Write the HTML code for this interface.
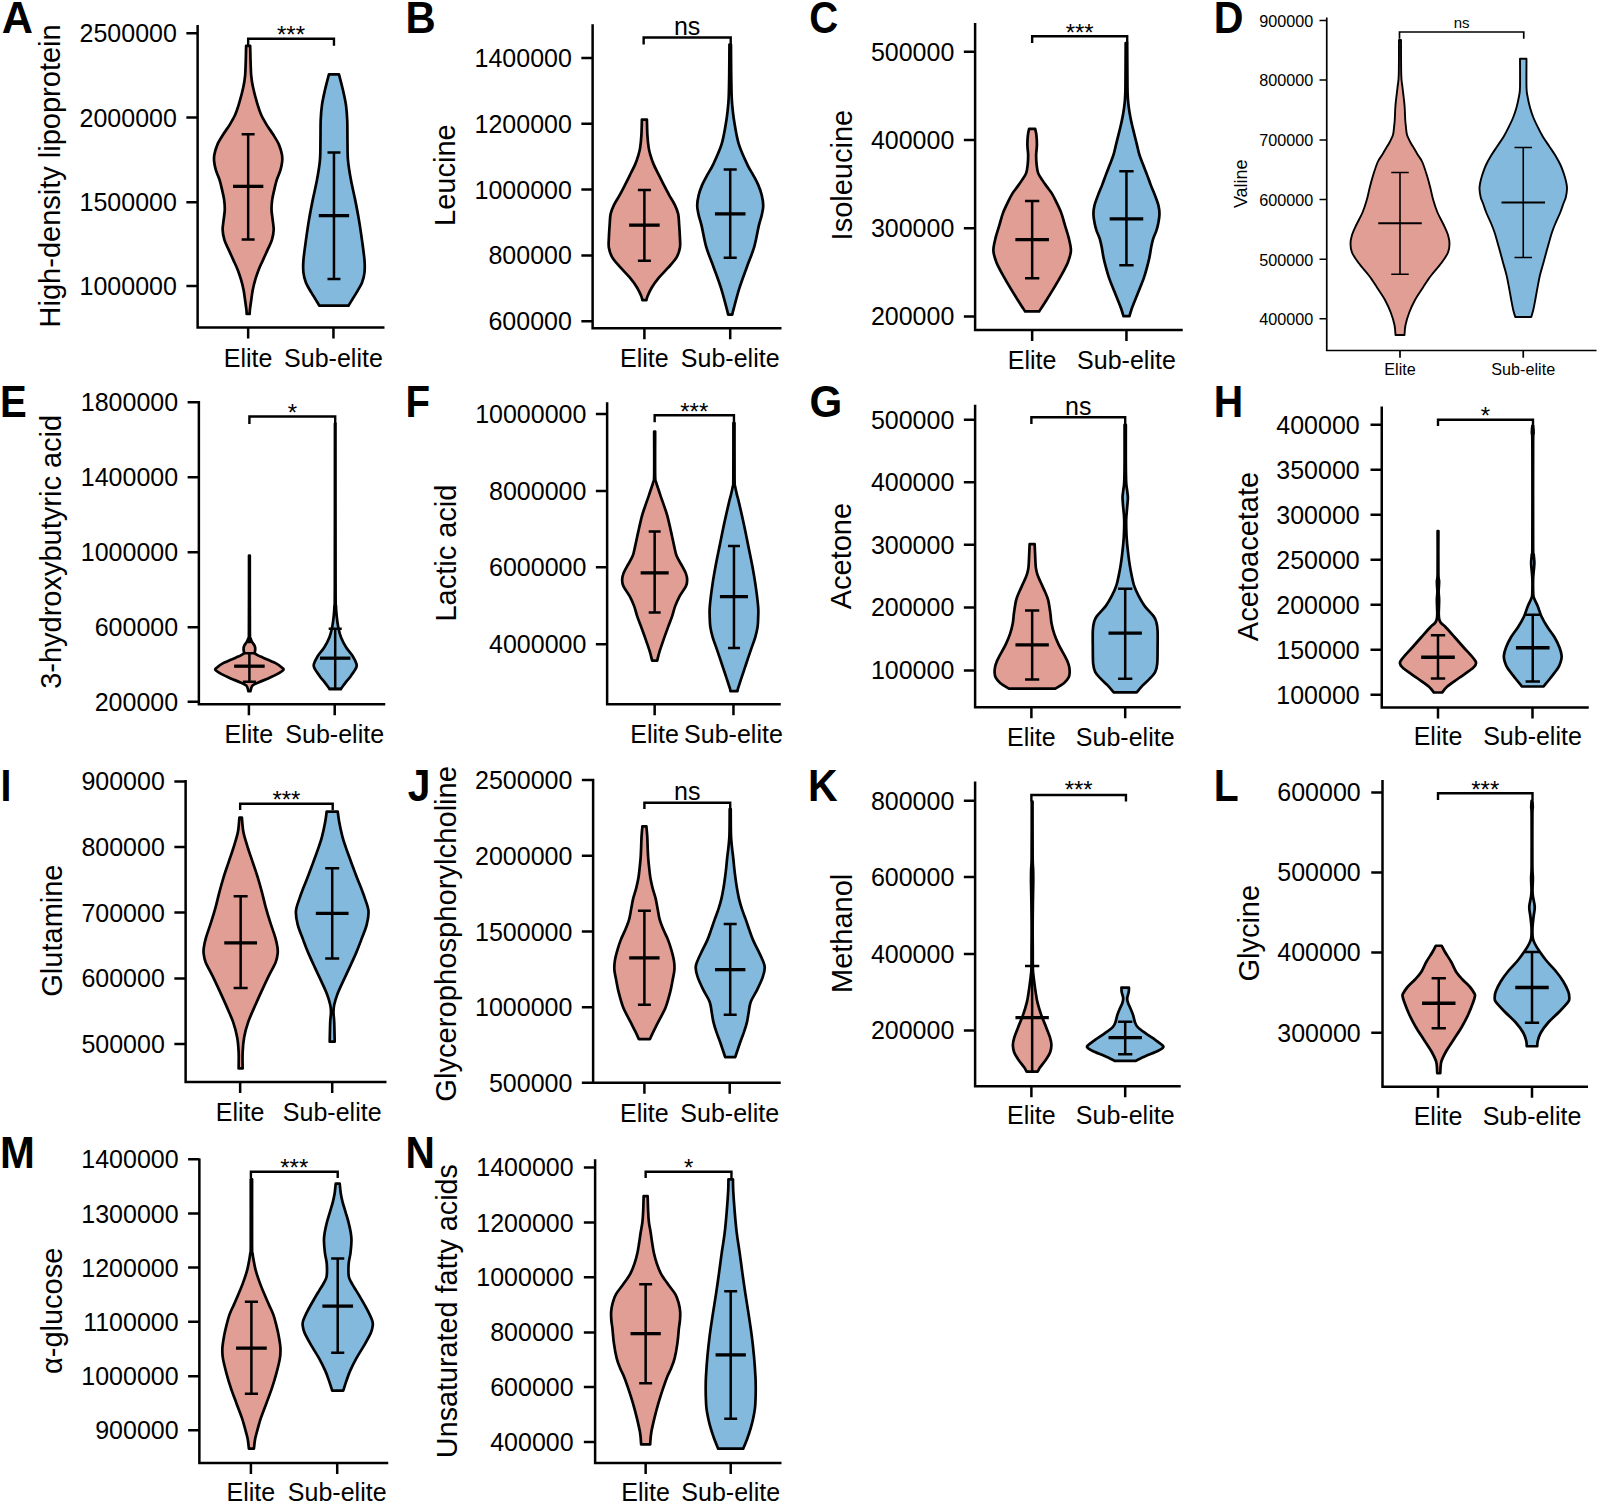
<!DOCTYPE html>
<html><head><meta charset="utf-8"><title>Violin plots</title>
<style>html,body{margin:0;padding:0;background:#fff}svg{display:block}text{font-family:"Liberation Sans",sans-serif;fill:#000}</style></head>
<body>
<svg width="1599" height="1504" viewBox="0 0 1599 1504">
<rect width="1599" height="1504" fill="#fff"/>
<g id="panelA">
<path d="M250.16 45.78C250.32 50.66 250.57 67.67 251.16 75.05C251.74 82.43 252.57 85.09 253.66 90.06C254.74 95.02 256.41 100.69 257.66 104.82C258.91 108.94 259.66 111.49 261.16 114.82C262.66 118.16 264.67 121.53 266.67 124.83C268.67 128.12 271.13 131.29 273.17 134.58C275.21 137.88 277.47 141.25 278.92 144.59C280.38 147.93 281.38 151.8 281.93 154.6C282.47 157.39 282.43 158.77 282.18 161.35C281.93 163.94 281.34 166.98 280.43 170.11C279.51 173.23 277.72 176.78 276.67 180.11C275.63 183.45 274.92 186.83 274.17 190.12C273.42 193.41 272.61 196.58 272.17 199.87C271.73 203.17 271.46 206.55 271.54 209.88C271.63 213.22 272.32 216.55 272.67 219.89C273.02 223.22 273.8 226.56 273.67 229.89C273.55 233.23 272.92 236.61 271.92 239.9C270.92 243.19 269.13 246.36 267.67 249.66C266.21 252.95 264.67 256.33 263.16 259.66C261.66 263 259.97 266.33 258.66 269.67C257.35 273 256.26 276.34 255.28 279.67C254.3 283.01 253.45 286.35 252.78 289.68C252.12 293.02 251.76 296.35 251.28 299.69C250.8 303.02 250.18 307.32 249.91 309.69C249.64 312.07 249.7 313.24 249.66 313.95L246.65 313.95C246.61 313.24 246.68 312.07 246.4 309.69C246.13 307.32 245.51 303.02 245.03 299.69C244.55 296.35 244.19 293.02 243.53 289.68C242.86 286.35 242.01 283.01 241.03 279.67C240.05 276.34 238.96 273 237.65 269.67C236.34 266.33 234.65 263 233.15 259.66C231.64 256.33 230.1 252.95 228.64 249.66C227.18 246.36 225.39 243.19 224.39 239.9C223.39 236.61 222.76 233.23 222.64 229.89C222.51 226.56 223.29 223.22 223.64 219.89C223.99 216.55 224.68 213.22 224.77 209.88C224.85 206.55 224.58 203.17 224.14 199.87C223.7 196.58 222.89 193.41 222.14 190.12C221.39 186.83 220.68 183.45 219.64 180.11C218.59 176.78 216.8 173.23 215.88 170.11C214.97 166.98 214.38 163.94 214.13 161.35C213.88 158.77 213.84 157.39 214.38 154.6C214.93 151.8 215.93 147.93 217.39 144.59C218.85 141.25 221.1 137.88 223.14 134.58C225.18 131.29 227.64 128.12 229.64 124.83C231.64 121.53 233.65 118.16 235.15 114.82C236.65 111.49 237.4 108.94 238.65 104.82C239.9 100.69 241.57 95.02 242.65 90.06C243.74 85.09 244.57 82.43 245.15 75.05C245.74 67.67 245.99 50.66 246.15 45.78Z" fill="#E09E94" stroke="#000" stroke-width="2.7" stroke-linejoin="round"/>
<path d="M248.16 134.33V239.4M241.67 134.33H254.64M241.67 239.4H254.64" fill="none" stroke="#000" stroke-width="2.5"/>
<path d="M232.97 186.37H263.34" fill="none" stroke="#000" stroke-width="3.3"/>
<path d="M338.96 74.3C339.63 76.92 341.8 84.93 342.96 90.06C344.13 95.18 345.26 100.06 345.97 105.07C346.68 110.07 346.97 114.24 347.22 120.08C347.47 125.91 347.34 133.42 347.47 140.09C347.59 146.76 347.38 153.43 347.97 160.1C348.55 166.77 349.76 173.44 350.97 180.11C352.18 186.78 353.89 193.45 355.22 200.13C356.56 206.8 357.85 213.47 358.97 220.14C360.1 226.81 361.06 233.48 361.98 240.15C362.89 246.82 364.06 254.74 364.48 260.16C364.89 265.58 364.89 268.92 364.48 272.67C364.06 276.42 363.31 279.34 361.98 282.68C360.64 286.01 358.72 288.85 356.47 292.68C354.22 296.52 349.8 303.52 348.47 305.69L319.45 305.69C318.12 303.52 313.7 296.52 311.44 292.68C309.19 288.85 307.28 286.01 305.94 282.68C304.61 279.34 303.86 276.42 303.44 272.67C303.02 268.92 303.02 265.58 303.44 260.16C303.86 254.74 305.02 246.82 305.94 240.15C306.86 233.48 307.82 226.81 308.94 220.14C310.07 213.47 311.36 206.8 312.7 200.13C314.03 193.45 315.74 186.78 316.95 180.11C318.16 173.44 319.37 166.77 319.95 160.1C320.53 153.43 320.33 146.76 320.45 140.09C320.58 133.42 320.45 125.91 320.7 120.08C320.95 114.24 321.24 110.07 321.95 105.07C322.66 100.06 323.79 95.18 324.95 90.06C326.12 84.93 328.29 76.92 328.96 74.3Z" fill="#82B9DD" stroke="#000" stroke-width="2.7" stroke-linejoin="round"/>
<path d="M333.96 152.6V278.92M327.48 152.6H340.44M327.48 278.92H340.44" fill="none" stroke="#000" stroke-width="2.5"/>
<path d="M318.77 215.63H349.14" fill="none" stroke="#000" stroke-width="3.3"/>
<path d="M197.62 25.02V327.45H384.49M186.37 33.27H197.62M186.37 117.57H197.62M186.37 202.13H197.62M186.37 285.93H197.62M248.16 327.45V338.46M333.46 327.45V338.46" fill="none" stroke="#000" stroke-width="2.5" stroke-linejoin="miter"/>
<path d="M248.16 45.78V38.77H333.96V45.78" fill="none" stroke="#000" stroke-width="2.4"/>
<text x="291.06" y="43.27" font-size="24" text-anchor="middle">***</text>
<text x="176.86" y="42.22" font-size="25" text-anchor="end">2500000</text>
<text x="176.86" y="126.52" font-size="25" text-anchor="end">2000000</text>
<text x="176.86" y="211.08" font-size="25" text-anchor="end">1500000</text>
<text x="176.86" y="294.88" font-size="25" text-anchor="end">1000000</text>
<text x="248.16" y="366.73" font-size="25" text-anchor="middle">Elite</text>
<text x="333.46" y="366.73" font-size="25" text-anchor="middle">Sub-elite</text>
<text transform="translate(60.29 175.86) rotate(-90)" font-size="29" text-anchor="middle">High-density lipoprotein</text>
<text transform="translate(1.83 33) scale(0.9937 1)" font-size="43.5" font-weight="bold">A</text>
</g>
<g id="panelB">
<path d="M646.9 119.57C646.99 122.16 647.11 130.41 647.4 135.08C647.7 139.75 648.16 144.26 648.66 147.59C649.16 150.93 649.57 152.3 650.41 155.1C651.24 157.89 652.24 161.02 653.66 164.35C655.08 167.69 657.2 171.65 658.91 175.11C660.62 178.57 662.21 181.78 663.91 185.12C665.62 188.45 667.33 191.79 669.17 195.12C671 198.46 673.42 202 674.92 205.13C676.42 208.26 677.47 210.55 678.17 213.88C678.88 217.22 678.88 221.18 679.17 225.14C679.47 229.1 679.8 233.9 679.92 237.65C680.05 241.4 680.51 244.32 679.92 247.65C679.34 250.99 678.38 254.33 676.42 257.66C674.46 261 671.09 264.33 668.17 267.67C665.25 271 661.66 274.34 658.91 277.67C656.16 281.01 653.58 284.55 651.66 287.68C649.74 290.81 648.28 294.35 647.4 296.44C646.53 298.52 646.57 299.56 646.4 300.19L642.4 300.19C642.23 299.56 642.28 298.52 641.4 296.44C640.53 294.35 639.07 290.81 637.15 287.68C635.23 284.55 632.65 281.01 629.89 277.67C627.14 274.34 623.56 271 620.64 267.67C617.72 264.33 614.34 261 612.38 257.66C610.42 254.33 609.46 250.99 608.88 247.65C608.3 244.32 608.76 241.4 608.88 237.65C609.01 233.9 609.34 229.1 609.63 225.14C609.92 221.18 609.92 217.22 610.63 213.88C611.34 210.55 612.38 208.26 613.88 205.13C615.38 202 617.8 198.46 619.64 195.12C621.47 191.79 623.18 188.45 624.89 185.12C626.6 181.78 628.18 178.57 629.89 175.11C631.6 171.65 633.73 167.69 635.15 164.35C636.56 161.02 637.57 157.89 638.4 155.1C639.23 152.3 639.65 150.93 640.15 147.59C640.65 144.26 641.11 139.75 641.4 135.08C641.69 130.41 641.82 122.16 641.9 119.57Z" fill="#E09E94" stroke="#000" stroke-width="2.7" stroke-linejoin="round"/>
<path d="M644.4 190.12V260.66M637.88 190.12H650.92M637.88 260.66H650.92" fill="none" stroke="#000" stroke-width="2.5"/>
<path d="M629.13 225.14H659.68" fill="none" stroke="#000" stroke-width="3.3"/>
<path d="M730.96 44.53C731 49.61 731.08 66.21 731.21 75.05C731.33 83.89 731.46 91.72 731.71 97.56C731.96 103.4 732.25 105.82 732.71 110.07C733.17 114.32 733.46 117.45 734.46 123.08C735.46 128.71 736.59 136.96 738.71 143.84C740.84 150.72 744.8 159.14 747.22 164.35C749.64 169.56 751.39 171.69 753.22 175.11C755.06 178.53 756.81 181.53 758.22 184.87C759.64 188.2 760.89 191.66 761.73 195.12C762.56 198.58 763.23 202.29 763.23 205.63C763.23 208.96 762.48 211.72 761.73 215.13C760.98 218.55 759.97 220.85 758.72 226.14C757.47 231.44 756.22 240.03 754.22 246.9C752.22 253.78 749.18 260.58 746.72 267.42C744.26 274.25 741.63 281.05 739.46 287.93C737.29 294.81 734.92 304.23 733.71 308.69C732.5 313.15 732.46 313.7 732.21 314.7L728.21 314.7C727.95 313.7 727.91 313.15 726.7 308.69C725.5 304.23 723.12 294.81 720.95 287.93C718.78 281.05 716.16 274.25 713.7 267.42C711.24 260.58 708.19 253.78 706.19 246.9C704.19 240.03 702.94 231.44 701.69 226.14C700.44 220.85 699.44 218.55 698.69 215.13C697.94 211.72 697.19 208.96 697.19 205.63C697.19 202.29 697.85 198.58 698.69 195.12C699.52 191.66 700.77 188.2 702.19 184.87C703.61 181.53 705.36 178.53 707.19 175.11C709.03 171.69 710.78 169.56 713.2 164.35C715.61 159.14 719.57 150.72 721.7 143.84C723.83 136.96 724.95 128.71 725.95 123.08C726.95 117.45 727.25 114.32 727.7 110.07C728.16 105.82 728.46 103.4 728.71 97.56C728.96 91.72 729.08 83.89 729.21 75.05C729.33 66.21 729.41 49.61 729.46 44.53Z" fill="#82B9DD" stroke="#000" stroke-width="2.7" stroke-linejoin="round"/>
<path d="M730.21 169.61V257.66M723.69 169.61H736.73M723.69 257.66H736.73" fill="none" stroke="#000" stroke-width="2.5"/>
<path d="M714.93 213.88H745.48" fill="none" stroke="#000" stroke-width="3.3"/>
<path d="M592.62 24.27V328.21H781.49M581.36 58.04H592.62M581.36 123.83H592.62M581.36 189.62H592.62M581.36 255.41H592.62M581.36 321.2H592.62M644.4 328.21V339.21M730.21 328.21V339.21" fill="none" stroke="#000" stroke-width="2.5" stroke-linejoin="miter"/>
<path d="M643.65 44.53V37.52H730.71V44.53" fill="none" stroke="#000" stroke-width="2.4"/>
<text x="687.18" y="34.82" font-size="25" text-anchor="middle">ns</text>
<text x="571.86" y="66.99" font-size="25" text-anchor="end">1400000</text>
<text x="571.86" y="132.78" font-size="25" text-anchor="end">1200000</text>
<text x="571.86" y="198.57" font-size="25" text-anchor="end">1000000</text>
<text x="571.86" y="264.36" font-size="25" text-anchor="end">800000</text>
<text x="571.86" y="330.15" font-size="25" text-anchor="end">600000</text>
<text x="644.4" y="366.73" font-size="25" text-anchor="middle">Elite</text>
<text x="730.21" y="366.73" font-size="25" text-anchor="middle">Sub-elite</text>
<text transform="translate(454.53 175.11) rotate(-90)" font-size="29" text-anchor="middle">Leucine</text>
<text transform="translate(405.45 33) scale(0.9612 1)" font-size="43.5" font-weight="bold">B</text>
</g>
<g id="panelC">
<path d="M1035.15 128.83C1035.36 129.87 1036.11 132.37 1036.4 135.08C1036.69 137.79 1036.94 141.76 1036.9 145.09C1036.86 148.43 1036.19 151.76 1036.15 155.1C1036.11 158.43 1036.31 162.1 1036.65 165.1C1036.98 168.11 1037.23 170.65 1038.15 173.11C1039.07 175.57 1040.73 177.65 1042.15 179.86C1043.57 182.07 1045.07 184.16 1046.65 186.37C1048.24 188.58 1050.2 190.83 1051.66 193.12C1053.12 195.41 1053.83 196.87 1055.41 200.13C1056.99 203.38 1059.58 208.46 1061.16 212.63C1062.75 216.8 1063.66 220.97 1064.92 225.14C1066.17 229.31 1067.67 233.48 1068.67 237.65C1069.67 241.82 1070.92 246.4 1070.92 250.16C1070.92 253.91 1069.46 257.49 1068.67 260.16C1067.88 262.83 1067.38 263.66 1066.17 266.17C1064.96 268.67 1063.41 271.59 1061.41 275.17C1059.41 278.76 1056.66 283.51 1054.16 287.68C1051.66 291.85 1048.91 296.23 1046.4 300.19C1043.9 304.15 1040.36 309.57 1039.15 311.44L1025.14 311.44C1023.93 309.57 1020.39 304.15 1017.89 300.19C1015.38 296.23 1012.63 291.85 1010.13 287.68C1007.63 283.51 1004.88 278.76 1002.88 275.17C1000.88 271.59 999.33 268.67 998.12 266.17C996.91 263.66 996.41 262.83 995.62 260.16C994.83 257.49 993.37 253.91 993.37 250.16C993.37 246.4 994.62 241.82 995.62 237.65C996.62 233.48 998.12 229.31 999.37 225.14C1000.63 220.97 1001.54 216.8 1003.13 212.63C1004.71 208.46 1007.3 203.38 1008.88 200.13C1010.46 196.87 1011.17 195.41 1012.63 193.12C1014.09 190.83 1016.05 188.58 1017.64 186.37C1019.22 184.16 1020.72 182.07 1022.14 179.86C1023.56 177.65 1025.22 175.57 1026.14 173.11C1027.06 170.65 1027.31 168.11 1027.64 165.1C1027.98 162.1 1028.18 158.43 1028.14 155.1C1028.1 151.76 1027.43 148.43 1027.39 145.09C1027.35 141.76 1027.6 137.79 1027.89 135.08C1028.18 132.37 1028.93 129.87 1029.14 128.83Z" fill="#E09E94" stroke="#000" stroke-width="2.7" stroke-linejoin="round"/>
<path d="M1032.15 200.88V278.17M1024.98 200.88H1039.31M1024.98 278.17H1039.31" fill="none" stroke="#000" stroke-width="2.5"/>
<path d="M1015.36 239.65H1048.93" fill="none" stroke="#000" stroke-width="3.3"/>
<path d="M1127.2 43.03C1127.25 50.03 1127.37 76.38 1127.45 85.05C1127.54 93.73 1127.58 92.14 1127.7 95.06C1127.83 97.98 1127.89 99.6 1128.21 102.56C1128.52 105.52 1129.02 109.4 1129.58 112.82C1130.14 116.24 1130.83 119.66 1131.58 123.08C1132.33 126.5 1133.23 129.87 1134.08 133.33C1134.94 136.79 1135.86 140.38 1136.71 143.84C1137.57 147.3 1138.17 150.68 1139.21 154.1C1140.25 157.52 1141.67 160.93 1142.96 164.35C1144.26 167.77 1145.67 171.19 1146.97 174.61C1148.26 178.03 1149.39 181.41 1150.72 184.87C1152.05 188.33 1153.68 191.91 1154.97 195.37C1156.26 198.83 1157.72 202.54 1158.47 205.63C1159.22 208.71 1159.47 211.13 1159.47 213.88C1159.47 216.64 1158.97 219.39 1158.47 222.14C1157.97 224.89 1157.35 227.64 1156.47 230.39C1155.6 233.15 1154.1 235.9 1153.22 238.65C1152.35 241.4 1151.84 243.82 1151.22 246.9C1150.59 249.99 1150.18 253.74 1149.47 257.16C1148.76 260.58 1147.88 264 1146.97 267.42C1146.05 270.84 1145.13 274.25 1143.96 277.67C1142.8 281.09 1141.34 284.47 1139.96 287.93C1138.59 291.39 1137.09 294.98 1135.71 298.44C1134.33 301.9 1132.75 305.73 1131.71 308.69C1130.66 311.65 1129.83 314.95 1129.46 316.2L1123.45 316.2C1123.08 314.95 1122.24 311.65 1121.2 308.69C1120.16 305.73 1118.57 301.9 1117.2 298.44C1115.82 294.98 1114.32 291.39 1112.95 287.93C1111.57 284.47 1110.11 281.09 1108.94 277.67C1107.78 274.25 1106.86 270.84 1105.94 267.42C1105.02 264 1104.15 260.58 1103.44 257.16C1102.73 253.74 1102.31 249.99 1101.69 246.9C1101.06 243.82 1100.56 241.4 1099.69 238.65C1098.81 235.9 1097.31 233.15 1096.44 230.39C1095.56 227.64 1094.93 224.89 1094.43 222.14C1093.93 219.39 1093.43 216.64 1093.43 213.88C1093.43 211.13 1093.68 208.71 1094.43 205.63C1095.18 202.54 1096.64 198.83 1097.94 195.37C1099.23 191.91 1100.85 188.33 1102.19 184.87C1103.52 181.41 1104.65 178.03 1105.94 174.61C1107.23 171.19 1108.65 167.77 1109.94 164.35C1111.24 160.93 1112.65 157.52 1113.7 154.1C1114.74 150.68 1115.34 147.3 1116.2 143.84C1117.05 140.38 1117.97 136.79 1118.82 133.33C1119.68 129.87 1120.58 126.5 1121.33 123.08C1122.08 119.66 1122.76 116.24 1123.33 112.82C1123.89 109.4 1124.39 105.52 1124.7 102.56C1125.02 99.6 1125.08 97.98 1125.2 95.06C1125.33 92.14 1125.37 93.73 1125.45 85.05C1125.54 76.38 1125.66 50.03 1125.7 43.03Z" fill="#82B9DD" stroke="#000" stroke-width="2.7" stroke-linejoin="round"/>
<path d="M1126.45 171.36V265.17M1119.29 171.36H1133.62M1119.29 265.17H1133.62" fill="none" stroke="#000" stroke-width="2.5"/>
<path d="M1109.67 218.89H1143.24" fill="none" stroke="#000" stroke-width="3.3"/>
<path d="M975.11 23.01V329.96H1182.74M963.85 51.78H975.11M963.85 140.09H975.11M963.85 228.14H975.11M963.85 316.45H975.11M1032.15 329.96V340.96M1126.45 329.96V340.96" fill="none" stroke="#000" stroke-width="2.5" stroke-linejoin="miter"/>
<path d="M1032.15 43.03V36.27H1127.2V43.03" fill="none" stroke="#000" stroke-width="2.4"/>
<text x="1079.67" y="40.77" font-size="24" text-anchor="middle">***</text>
<text x="954.35" y="60.73" font-size="25" text-anchor="end">500000</text>
<text x="954.35" y="149.04" font-size="25" text-anchor="end">400000</text>
<text x="954.35" y="237.09" font-size="25" text-anchor="end">300000</text>
<text x="954.35" y="325.4" font-size="25" text-anchor="end">200000</text>
<text x="1032.15" y="368.73" font-size="25" text-anchor="middle">Elite</text>
<text x="1126.45" y="368.73" font-size="25" text-anchor="middle">Sub-elite</text>
<text transform="translate(851.53 175.11) rotate(-90)" font-size="29" text-anchor="middle">Isoleucine</text>
<text transform="translate(809.35 33) scale(0.9230 1)" font-size="43.5" font-weight="bold">C</text>
</g>
<g id="panelD">
<path d="M1401 40C1401.04 45.83 1401 67.08 1401.25 75C1401.5 82.92 1401.96 82.5 1402.5 87.5C1403.04 92.5 1404.04 99.58 1404.5 105C1404.96 110.42 1405 116.25 1405.25 120C1405.5 123.75 1405.71 125.04 1406 127.5C1406.29 129.96 1406.25 132.25 1407 134.75C1407.75 137.25 1409.17 139.96 1410.5 142.5C1411.83 145.04 1413.71 147.83 1415 150C1416.29 152.17 1417 153.42 1418.25 155.5C1419.5 157.58 1421 159 1422.5 162.5C1424 166 1425.96 172.33 1427.25 176.5C1428.54 180.67 1429.25 183.58 1430.25 187.5C1431.25 191.42 1432.04 195.83 1433.25 200C1434.46 204.17 1435.75 208.33 1437.5 212.5C1439.25 216.67 1442 221.25 1443.75 225C1445.5 228.75 1447.04 231.88 1448 235C1448.96 238.12 1449.5 240.83 1449.5 243.75C1449.5 246.67 1449.29 249.38 1448 252.5C1446.71 255.62 1444.5 258.75 1441.75 262.5C1439 266.25 1433.96 271.88 1431.5 275C1429.04 278.12 1428.42 279.17 1427 281.25C1425.58 283.33 1425 284.38 1423 287.5C1421 290.62 1417.29 295.83 1415 300C1412.71 304.17 1410.83 308.33 1409.25 312.5C1407.67 316.67 1406.29 321.25 1405.5 325C1404.71 328.75 1404.67 333.33 1404.5 335L1395.5 335C1395.33 333.33 1395.29 328.75 1394.5 325C1393.71 321.25 1392.33 316.67 1390.75 312.5C1389.17 308.33 1387.29 304.17 1385 300C1382.71 295.83 1379 290.62 1377 287.5C1375 284.38 1374.42 283.33 1373 281.25C1371.58 279.17 1370.96 278.12 1368.5 275C1366.04 271.88 1361 266.25 1358.25 262.5C1355.5 258.75 1353.29 255.62 1352 252.5C1350.71 249.38 1350.5 246.67 1350.5 243.75C1350.5 240.83 1351.04 238.12 1352 235C1352.96 231.88 1354.5 228.75 1356.25 225C1358 221.25 1360.75 216.67 1362.5 212.5C1364.25 208.33 1365.54 204.17 1366.75 200C1367.96 195.83 1368.75 191.42 1369.75 187.5C1370.75 183.58 1371.46 180.67 1372.75 176.5C1374.04 172.33 1376 166 1377.5 162.5C1379 159 1380.5 157.58 1381.75 155.5C1383 153.42 1383.71 152.17 1385 150C1386.29 147.83 1388.17 145.04 1389.5 142.5C1390.83 139.96 1392.25 137.25 1393 134.75C1393.75 132.25 1393.71 129.96 1394 127.5C1394.29 125.04 1394.5 123.75 1394.75 120C1395 116.25 1395.04 110.42 1395.5 105C1395.96 99.58 1396.96 92.5 1397.5 87.5C1398.04 82.5 1398.5 82.92 1398.75 75C1399 67.08 1398.96 45.83 1399 40Z" fill="#E09E94" stroke="#000" stroke-width="1.9" stroke-linejoin="round"/>
<path d="M1400 172.5V274.25M1391.25 172.5H1408.75M1391.25 274.25H1408.75" fill="none" stroke="#000" stroke-width="1.6"/>
<path d="M1378.25 223.25H1421.75" fill="none" stroke="#000" stroke-width="1.8"/>
<path d="M1526.5 58.75C1526.5 63.54 1526.33 81.25 1526.5 87.5C1526.67 93.75 1526.92 92.92 1527.5 96.25C1528.08 99.58 1529.04 104 1530 107.5C1530.96 111 1531.96 114 1533.25 117.25C1534.54 120.5 1536.17 123.79 1537.75 127C1539.33 130.21 1540.83 133.29 1542.75 136.5C1544.67 139.71 1547.12 143.04 1549.25 146.25C1551.38 149.46 1553.58 152.54 1555.5 155.75C1557.42 158.96 1559.29 162.29 1560.75 165.5C1562.21 168.71 1563.33 172.17 1564.25 175C1565.17 177.83 1565.79 180.21 1566.25 182.5C1566.71 184.79 1567.08 186.25 1567 188.75C1566.92 191.25 1566.38 194.96 1565.75 197.5C1565.12 200.04 1564.17 201.5 1563.25 204C1562.33 206.5 1561.67 209 1560.25 212.5C1558.83 216 1556.17 221.58 1554.75 225C1553.33 228.42 1552.71 230.08 1551.75 233C1550.79 235.92 1549.92 239.29 1549 242.5C1548.08 245.71 1547.17 248.92 1546.25 252.25C1545.33 255.58 1544.54 258.71 1543.5 262.5C1542.46 266.29 1541 270.83 1540 275C1539 279.17 1538.29 283.33 1537.5 287.5C1536.71 291.67 1535.96 296.25 1535.25 300C1534.54 303.75 1533.92 307.17 1533.25 310C1532.58 312.83 1531.58 315.83 1531.25 317L1515.25 317C1514.92 315.83 1513.92 312.83 1513.25 310C1512.58 307.17 1511.96 303.75 1511.25 300C1510.54 296.25 1509.79 291.67 1509 287.5C1508.21 283.33 1507.5 279.17 1506.5 275C1505.5 270.83 1504.04 266.29 1503 262.5C1501.96 258.71 1501.17 255.58 1500.25 252.25C1499.33 248.92 1498.42 245.71 1497.5 242.5C1496.58 239.29 1495.71 235.92 1494.75 233C1493.79 230.08 1493.17 228.42 1491.75 225C1490.33 221.58 1487.67 216 1486.25 212.5C1484.83 209 1484.17 206.5 1483.25 204C1482.33 201.5 1481.38 200.04 1480.75 197.5C1480.12 194.96 1479.58 191.25 1479.5 188.75C1479.42 186.25 1479.79 184.79 1480.25 182.5C1480.71 180.21 1481.33 177.83 1482.25 175C1483.17 172.17 1484.29 168.71 1485.75 165.5C1487.21 162.29 1489.08 158.96 1491 155.75C1492.92 152.54 1495.12 149.46 1497.25 146.25C1499.38 143.04 1501.83 139.71 1503.75 136.5C1505.67 133.29 1507.17 130.21 1508.75 127C1510.33 123.79 1511.96 120.5 1513.25 117.25C1514.54 114 1515.54 111 1516.5 107.5C1517.46 104 1518.42 99.58 1519 96.25C1519.58 92.92 1519.83 93.75 1520 87.5C1520.17 81.25 1520 63.54 1520 58.75Z" fill="#82B9DD" stroke="#000" stroke-width="1.9" stroke-linejoin="round"/>
<path d="M1523.25 147.5V257.5M1514.5 147.5H1532M1514.5 257.5H1532" fill="none" stroke="#000" stroke-width="1.6"/>
<path d="M1501.5 202.5H1545" fill="none" stroke="#000" stroke-width="1.8"/>
<path d="M1326.75 17.5V350.5H1596.5M1319.5 20.5H1326.75M1319.5 80H1326.75M1319.5 140H1326.75M1319.5 199.5H1326.75M1319.5 259.25H1326.75M1319.5 318.75H1326.75M1400 350.5V357.75M1523.25 350.5V357.75" fill="none" stroke="#000" stroke-width="1.7" stroke-linejoin="miter"/>
<path d="M1399.5 38.75V32H1523.75V38.75" fill="none" stroke="#000" stroke-width="1.7"/>
<text x="1461.62" y="28" font-size="15" text-anchor="middle">ns</text>
<text x="1313.25" y="26.9" font-size="16.2" text-anchor="end">900000</text>
<text x="1313.25" y="86.4" font-size="16.2" text-anchor="end">800000</text>
<text x="1313.25" y="146.4" font-size="16.2" text-anchor="end">700000</text>
<text x="1313.25" y="205.9" font-size="16.2" text-anchor="end">600000</text>
<text x="1313.25" y="265.65" font-size="16.2" text-anchor="end">500000</text>
<text x="1313.25" y="325.15" font-size="16.2" text-anchor="end">400000</text>
<text x="1400" y="374.75" font-size="16.2" text-anchor="middle">Elite</text>
<text x="1523.25" y="374.75" font-size="16.2" text-anchor="middle">Sub-elite</text>
<text transform="translate(1246.5 183.75) rotate(-90)" font-size="18" text-anchor="middle">Valine</text>
<text transform="translate(1213.75 33) scale(0.9465 1)" font-size="43.5" font-weight="bold">D</text>
</g>
<g id="panelE">
<path d="M249.78 555.61C249.8 568.83 249.76 621.07 249.91 634.91C250.05 648.75 250.28 637.46 250.66 638.66C251.03 639.87 251.57 641.12 252.16 642.17C252.74 643.21 253.66 644 254.16 644.92C254.66 645.84 254.99 646.75 255.16 647.67C255.33 648.59 255.2 649.5 255.16 650.42C255.12 651.34 254.37 652.3 254.91 653.17C255.45 654.05 257.04 654.92 258.41 655.67C259.79 656.43 260.37 656.47 263.16 657.68C265.96 658.89 271.96 661.22 275.17 662.93C278.38 664.64 281.09 666.72 282.43 667.93C283.76 669.14 284.05 669.14 283.18 670.18C282.3 671.23 279.67 672.81 277.17 674.19C274.67 675.56 271.29 677.06 268.17 678.44C265.04 679.81 261.04 681.23 258.41 682.44C255.78 683.65 253.74 684.23 252.41 685.69C251.07 687.15 250.74 690.28 250.41 691.2L248.41 691.2C248.07 690.28 247.74 687.15 246.4 685.69C245.07 684.23 243.03 683.65 240.4 682.44C237.77 681.23 233.77 679.81 230.64 678.44C227.52 677.06 224.14 675.56 221.64 674.19C219.14 672.81 216.51 671.23 215.63 670.18C214.76 669.14 215.05 669.14 216.39 667.93C217.72 666.72 220.43 664.64 223.64 662.93C226.85 661.22 232.85 658.89 235.65 657.68C238.44 656.47 239.02 656.43 240.4 655.67C241.78 654.92 243.36 654.05 243.9 653.17C244.44 652.3 243.69 651.34 243.65 650.42C243.61 649.5 243.49 648.59 243.65 647.67C243.82 646.75 244.15 645.84 244.65 644.92C245.15 644 246.07 643.21 246.65 642.17C247.24 641.12 247.78 639.87 248.16 638.66C248.53 637.46 248.76 648.75 248.91 634.91C249.05 621.07 249.01 568.83 249.03 555.61Z" fill="#E09E94" stroke="#000" stroke-width="2.7" stroke-linejoin="round"/>
<path d="M249.41 653.17V681.69M242.88 653.17H255.93M242.88 681.69H255.93" fill="none" stroke="#000" stroke-width="2.5"/>
<path d="M234.13 666.18H264.68" fill="none" stroke="#000" stroke-width="3.3"/>
<path d="M335.46 423.53C335.48 450.55 335.5 555.2 335.58 585.63C335.67 616.07 335.77 601.02 335.96 606.14C336.15 611.27 336.34 612.94 336.71 616.4C337.09 619.86 337.5 623.45 338.21 626.91C338.92 630.37 339.63 633.74 340.96 637.16C342.3 640.58 344.3 644.33 346.22 647.42C348.13 650.5 350.76 652.92 352.47 655.67C354.18 658.43 355.89 661.85 356.47 663.93C357.06 666.01 356.93 666.14 355.97 668.18C355.01 670.23 352.43 673.81 350.72 676.19C349.01 678.56 347.22 680.52 345.72 682.44C344.22 684.36 342.55 686.57 341.71 687.69C340.88 688.82 340.88 688.95 340.71 689.2L329.71 689.2C329.54 688.95 329.54 688.82 328.71 687.69C327.87 686.57 326.2 684.36 324.7 682.44C323.2 680.52 321.41 678.56 319.7 676.19C317.99 673.81 315.41 670.23 314.45 668.18C313.49 666.14 313.36 666.01 313.95 663.93C314.53 661.85 316.24 658.43 317.95 655.67C319.66 652.92 322.28 650.5 324.2 647.42C326.12 644.33 328.12 640.58 329.46 637.16C330.79 633.74 331.5 630.37 332.21 626.91C332.92 623.45 333.33 619.86 333.71 616.4C334.08 612.94 334.27 611.27 334.46 606.14C334.65 601.02 334.75 616.07 334.83 585.63C334.92 555.2 334.94 450.55 334.96 423.53Z" fill="#82B9DD" stroke="#000" stroke-width="2.7" stroke-linejoin="round"/>
<path d="M335.21 628.66V688.7M328.69 628.66H341.73M328.69 688.7H341.73" fill="none" stroke="#000" stroke-width="2.5"/>
<path d="M319.94 658.18H350.48" fill="none" stroke="#000" stroke-width="3.3"/>
<path d="M198.87 401.02V704.21H385.24M187.62 402.27H198.87M187.62 477.31H198.87M187.62 552.36H198.87M187.62 627.16H198.87M187.62 701.7H198.87M248.91 704.21V715.21M334.71 704.21V715.21" fill="none" stroke="#000" stroke-width="2.5" stroke-linejoin="miter"/>
<path d="M249.41 424.03V416.53H335.21V424.03" fill="none" stroke="#000" stroke-width="2.4"/>
<text x="292.31" y="421.03" font-size="24" text-anchor="middle">*</text>
<text x="178.11" y="411.22" font-size="25" text-anchor="end">1800000</text>
<text x="178.11" y="486.26" font-size="25" text-anchor="end">1400000</text>
<text x="178.11" y="561.31" font-size="25" text-anchor="end">1000000</text>
<text x="178.11" y="636.11" font-size="25" text-anchor="end">600000</text>
<text x="178.11" y="710.65" font-size="25" text-anchor="end">200000</text>
<text x="248.91" y="742.73" font-size="25" text-anchor="middle">Elite</text>
<text x="334.71" y="742.73" font-size="25" text-anchor="middle">Sub-elite</text>
<text transform="translate(60.79 551.86) rotate(-90)" font-size="29" text-anchor="middle">3-hydroxybutyric acid</text>
<text transform="translate(0.07 416.7) scale(0.9220 1)" font-size="43.5" font-weight="bold">E</text>
</g>
<g id="panelF">
<path d="M655.16 431.53C655.16 438.75 654.99 466.35 655.16 474.81C655.33 483.28 655.66 480.02 656.16 482.32C656.66 484.61 657.41 486.28 658.16 488.57C658.91 490.86 659.66 493.16 660.66 496.08C661.66 498.99 663.04 502.75 664.17 506.08C665.29 509.42 666.29 511.92 667.42 516.09C668.54 520.26 669.79 526.09 670.92 531.1C672.05 536.1 673.21 541.94 674.17 546.11C675.13 550.28 675.34 552.78 676.67 556.11C678.01 559.45 680.63 563.2 682.18 566.12C683.72 569.04 685.09 571.33 685.93 573.62C686.76 575.92 687.18 577.79 687.18 579.88C687.18 581.96 687.18 583.42 685.93 586.13C684.68 588.84 681.47 592.8 679.67 596.14C677.88 599.47 676.42 602.81 675.17 606.14C673.92 609.48 673.3 612.81 672.17 616.15C671.04 619.49 669.79 622.4 668.42 626.16C667.04 629.91 665.37 634.49 663.91 638.66C662.46 642.83 660.79 647.5 659.66 651.17C658.54 654.84 657.58 659.09 657.16 660.68L652.16 660.68C651.74 659.09 650.78 654.84 649.66 651.17C648.53 647.5 646.86 642.83 645.4 638.66C643.94 634.49 642.28 629.91 640.9 626.16C639.52 622.4 638.27 619.49 637.15 616.15C636.02 612.81 635.4 609.48 634.15 606.14C632.9 602.81 631.44 599.47 629.64 596.14C627.85 592.8 624.64 588.84 623.39 586.13C622.14 583.42 622.14 581.96 622.14 579.88C622.14 577.79 622.56 575.92 623.39 573.62C624.22 571.33 625.6 569.04 627.14 566.12C628.68 563.2 631.31 559.45 632.65 556.11C633.98 552.78 634.19 550.28 635.15 546.11C636.11 541.94 637.27 536.1 638.4 531.1C639.52 526.09 640.78 520.26 641.9 516.09C643.03 511.92 644.03 509.42 645.15 506.08C646.28 502.75 647.65 498.99 648.66 496.08C649.66 493.16 650.41 490.86 651.16 488.57C651.91 486.28 652.66 484.61 653.16 482.32C653.66 480.02 653.99 483.28 654.16 474.81C654.33 466.35 654.16 438.75 654.16 431.53Z" fill="#E09E94" stroke="#000" stroke-width="2.7" stroke-linejoin="round"/>
<path d="M654.66 531.6V612.4M648.67 531.6H660.65M648.67 612.4H660.65" fill="none" stroke="#000" stroke-width="2.5"/>
<path d="M640.63 572.87H668.69" fill="none" stroke="#000" stroke-width="3.3"/>
<path d="M734.51 423.03C734.52 432.24 734.47 467.72 734.58 478.31C734.7 488.9 734.81 483.82 735.21 486.57C735.61 489.32 736.31 492.07 736.96 494.82C737.61 497.58 737.96 498.28 739.09 503.08C740.21 507.87 742.23 516.71 743.71 523.59C745.19 530.47 746.57 537.48 747.97 544.36C749.36 551.23 750.82 557.99 752.1 564.87C753.37 571.75 754.6 578.75 755.6 585.63C756.6 592.51 757.66 601.02 758.1 606.14C758.54 611.27 758.31 612.94 758.22 616.4C758.14 619.86 758.1 623.4 757.6 626.91C757.1 630.41 756.2 633.99 755.22 637.41C754.24 640.83 752.89 644.04 751.72 647.42C750.55 650.8 749.39 654.22 748.22 657.68C747.05 661.14 745.88 664.68 744.72 668.18C743.55 671.68 742.34 675.27 741.21 678.69C740.09 682.11 738.59 686.61 737.96 688.7C737.34 690.78 737.54 690.78 737.46 691.2L730.46 691.2C730.37 690.78 730.58 690.78 729.96 688.7C729.33 686.61 727.83 682.11 726.7 678.69C725.58 675.27 724.37 671.68 723.2 668.18C722.03 664.68 720.87 661.14 719.7 657.68C718.53 654.22 717.37 650.8 716.2 647.42C715.03 644.04 713.68 640.83 712.7 637.41C711.72 633.99 710.82 630.41 710.32 626.91C709.82 623.4 709.78 619.86 709.69 616.4C709.61 612.94 709.38 611.27 709.82 606.14C710.26 601.02 711.32 592.51 712.32 585.63C713.32 578.75 714.55 571.75 715.82 564.87C717.09 557.99 718.55 551.23 719.95 544.36C721.35 537.48 722.72 530.47 724.2 523.59C725.68 516.71 727.7 507.87 728.83 503.08C729.96 498.28 730.31 497.58 730.96 494.82C731.6 492.07 732.31 489.32 732.71 486.57C733.1 483.82 733.22 488.9 733.33 478.31C733.45 467.72 733.4 432.24 733.41 423.03Z" fill="#82B9DD" stroke="#000" stroke-width="2.7" stroke-linejoin="round"/>
<path d="M733.96 546.11V647.92M727.97 546.11H739.95M727.97 647.92H739.95" fill="none" stroke="#000" stroke-width="2.5"/>
<path d="M719.93 596.64H747.98" fill="none" stroke="#000" stroke-width="3.3"/>
<path d="M607.13 402.27V704.21H780.74M595.87 414.02H607.13M595.87 491.07H607.13M595.87 567.37H607.13M595.87 644.17H607.13M654.66 704.21V715.21M733.46 704.21V715.21" fill="none" stroke="#000" stroke-width="2.5" stroke-linejoin="miter"/>
<path d="M654.66 422.28V415.27H733.96V422.28" fill="none" stroke="#000" stroke-width="2.4"/>
<text x="694.31" y="419.77" font-size="24" text-anchor="middle">***</text>
<text x="586.37" y="422.97" font-size="25" text-anchor="end">10000000</text>
<text x="586.37" y="500.02" font-size="25" text-anchor="end">8000000</text>
<text x="586.37" y="576.32" font-size="25" text-anchor="end">6000000</text>
<text x="586.37" y="653.12" font-size="25" text-anchor="end">4000000</text>
<text x="654.66" y="742.73" font-size="25" text-anchor="middle">Elite</text>
<text x="733.46" y="742.73" font-size="25" text-anchor="middle">Sub-elite</text>
<text transform="translate(455.79 553.11) rotate(-90)" font-size="29" text-anchor="middle">Lactic acid</text>
<text transform="translate(405.56 416.7) scale(0.9244 1)" font-size="43.5" font-weight="bold">F</text>
</g>
<g id="panelG">
<path d="M1034.65 544.11C1034.77 546.94 1035.19 557.15 1035.4 561.12C1035.61 565.08 1035.61 565.79 1035.9 567.87C1036.19 569.95 1036.61 571.79 1037.15 573.62C1037.69 575.46 1038.4 577.08 1039.15 578.88C1039.9 580.67 1040.82 582.55 1041.65 584.38C1042.48 586.21 1043.32 588.01 1044.15 589.88C1044.99 591.76 1045.95 593.76 1046.65 595.64C1047.36 597.51 1047.78 598.14 1048.41 601.14C1049.03 604.14 1049.91 610.06 1050.41 613.65C1050.91 617.23 1050.78 619.32 1051.41 622.65C1052.03 625.99 1052.95 629.99 1054.16 633.66C1055.37 637.33 1056.91 641 1058.66 644.67C1060.41 648.34 1063.21 652.92 1064.67 655.67C1066.12 658.43 1066.67 659.34 1067.42 661.18C1068.17 663.01 1068.79 664.81 1069.17 666.68C1069.54 668.56 1069.75 670.64 1069.67 672.44C1069.59 674.23 1069.59 675.69 1068.67 677.44C1067.75 679.19 1066.42 681.07 1064.17 682.94C1061.91 684.82 1056.66 687.74 1055.16 688.7L1009.13 688.7C1007.63 687.74 1002.38 684.82 1000.13 682.94C997.87 681.07 996.54 679.19 995.62 677.44C994.71 675.69 994.71 674.23 994.62 672.44C994.54 670.64 994.75 668.56 995.12 666.68C995.5 664.81 996.12 663.01 996.87 661.18C997.62 659.34 998.17 658.43 999.62 655.67C1001.08 652.92 1003.88 648.34 1005.63 644.67C1007.38 641 1008.92 637.33 1010.13 633.66C1011.34 629.99 1012.26 625.99 1012.88 622.65C1013.51 619.32 1013.38 617.23 1013.88 613.65C1014.38 610.06 1015.26 604.14 1015.88 601.14C1016.51 598.14 1016.93 597.51 1017.64 595.64C1018.34 593.76 1019.3 591.76 1020.14 589.88C1020.97 588.01 1021.81 586.21 1022.64 584.38C1023.47 582.55 1024.39 580.67 1025.14 578.88C1025.89 577.08 1026.6 575.46 1027.14 573.62C1027.68 571.79 1028.1 569.95 1028.39 567.87C1028.68 565.79 1028.68 565.08 1028.89 561.12C1029.1 557.15 1029.52 546.94 1029.64 544.11Z" fill="#E09E94" stroke="#000" stroke-width="2.7" stroke-linejoin="round"/>
<path d="M1032.15 610.4V679.44M1025.02 610.4H1039.27M1025.02 679.44H1039.27" fill="none" stroke="#000" stroke-width="2.5"/>
<path d="M1015.45 644.92H1048.84" fill="none" stroke="#000" stroke-width="3.3"/>
<path d="M1125.83 424.78C1125.83 430.95 1125.77 452.17 1125.83 461.8C1125.89 471.43 1125.97 477.73 1126.2 482.57C1126.43 487.4 1126.93 488.28 1127.2 490.82C1127.48 493.37 1127.88 495.12 1127.88 497.83C1127.88 500.54 1127.48 503.45 1127.2 507.08C1126.93 510.71 1126.33 515.09 1126.2 519.59C1126.08 524.09 1126.29 529.97 1126.45 534.1C1126.62 538.23 1126.9 540.94 1127.2 544.36C1127.51 547.77 1127.89 551.19 1128.31 554.61C1128.72 558.03 1129.16 561.45 1129.71 564.87C1130.25 568.29 1130.85 571.66 1131.58 575.12C1132.31 578.58 1132.91 582.17 1134.08 585.63C1135.26 589.09 1136.84 592.47 1138.61 595.89C1140.38 599.31 1142.2 602.73 1144.72 606.14C1147.23 609.56 1151.76 613.65 1153.72 616.4C1155.68 619.15 1155.83 620.24 1156.47 622.65C1157.12 625.07 1157.41 626.78 1157.6 630.91C1157.79 635.04 1157.66 641.92 1157.6 647.42C1157.54 652.92 1157.64 659.8 1157.22 663.93C1156.81 668.06 1156.33 669.77 1155.12 672.19C1153.91 674.6 1152.04 676.23 1149.97 678.44C1147.9 680.65 1144.92 683.11 1142.71 685.44C1140.5 687.78 1137.71 691.28 1136.71 692.45L1113.7 692.45C1112.7 691.28 1109.9 687.78 1107.69 685.44C1105.48 683.11 1102.51 680.65 1100.44 678.44C1098.37 676.23 1096.49 674.6 1095.28 672.19C1094.08 669.77 1093.6 668.06 1093.18 663.93C1092.77 659.8 1092.87 652.92 1092.81 647.42C1092.75 641.92 1092.62 635.04 1092.81 630.91C1093 626.78 1093.29 625.07 1093.93 622.65C1094.58 620.24 1094.73 619.15 1096.69 616.4C1098.64 613.65 1103.17 609.56 1105.69 606.14C1108.21 602.73 1110.02 599.31 1111.79 595.89C1113.57 592.47 1115.15 589.09 1116.32 585.63C1117.49 582.17 1118.09 578.58 1118.82 575.12C1119.55 571.66 1120.15 568.29 1120.7 564.87C1121.25 561.45 1121.68 558.03 1122.1 554.61C1122.52 551.19 1122.89 547.77 1123.2 544.36C1123.51 540.94 1123.79 538.23 1123.95 534.1C1124.12 529.97 1124.33 524.09 1124.2 519.59C1124.08 515.09 1123.48 510.71 1123.2 507.08C1122.92 503.45 1122.53 500.54 1122.53 497.83C1122.53 495.12 1122.92 493.37 1123.2 490.82C1123.48 488.28 1123.97 487.4 1124.2 482.57C1124.43 477.73 1124.52 471.43 1124.58 461.8C1124.64 452.17 1124.58 430.95 1124.58 424.78Z" fill="#82B9DD" stroke="#000" stroke-width="2.7" stroke-linejoin="round"/>
<path d="M1125.2 588.63V678.69M1118.07 588.63H1132.33M1118.07 678.69H1132.33" fill="none" stroke="#000" stroke-width="2.5"/>
<path d="M1108.51 633.16H1141.9" fill="none" stroke="#000" stroke-width="3.3"/>
<path d="M975.11 404.77V707.21H1180.74M963.85 419.78H975.11M963.85 482.32H975.11M963.85 544.86H975.11M963.85 607.39H975.11M963.85 670.43H975.11M1031.39 707.21V718.21M1125.2 707.21V718.21" fill="none" stroke="#000" stroke-width="2.5" stroke-linejoin="miter"/>
<path d="M1031.39 424.03V417.28H1125.2V424.03" fill="none" stroke="#000" stroke-width="2.4"/>
<text x="1078.3" y="414.58" font-size="25" text-anchor="middle">ns</text>
<text x="954.35" y="428.73" font-size="25" text-anchor="end">500000</text>
<text x="954.35" y="491.27" font-size="25" text-anchor="end">400000</text>
<text x="954.35" y="553.81" font-size="25" text-anchor="end">300000</text>
<text x="954.35" y="616.34" font-size="25" text-anchor="end">200000</text>
<text x="954.35" y="679.38" font-size="25" text-anchor="end">100000</text>
<text x="1031.39" y="745.98" font-size="25" text-anchor="middle">Elite</text>
<text x="1125.2" y="745.98" font-size="25" text-anchor="middle">Sub-elite</text>
<text transform="translate(850.78 556.11) rotate(-90)" font-size="29" text-anchor="middle">Acetone</text>
<text transform="translate(809.62 417.3) scale(0.9675 1)" font-size="43.5" font-weight="bold">G</text>
</g>
<g id="panelH">
<path d="M1438.38 531C1438.38 538.04 1438.25 564.83 1438.38 573.25C1438.5 581.67 1439.08 578.42 1439.12 581.5C1439.17 584.58 1438.62 588.67 1438.62 591.75C1438.62 594.83 1439.1 596.21 1439.12 600C1439.15 603.79 1438.67 611.08 1438.75 614.5C1438.83 617.92 1439.12 618.96 1439.62 620.5C1440.12 622.04 1440.81 622.71 1441.75 623.75C1442.69 624.79 1443.12 624.54 1445.25 626.75C1447.38 628.96 1451.42 633.54 1454.5 637C1457.58 640.46 1460.67 644.04 1463.75 647.5C1466.83 650.96 1470.94 655.17 1473 657.75C1475.06 660.33 1476.12 661.29 1476.12 663C1476.12 664.71 1475.92 665.46 1473 668C1470.08 670.54 1462.92 675.17 1458.62 678.25C1454.33 681.33 1450 684.12 1447.25 686.5C1444.5 688.88 1442.98 691.5 1442.12 692.5L1433.88 692.5C1433.02 691.5 1431.5 688.88 1428.75 686.5C1426 684.12 1421.67 681.33 1417.38 678.25C1413.08 675.17 1405.92 670.54 1403 668C1400.08 665.46 1399.88 664.71 1399.88 663C1399.88 661.29 1400.94 660.33 1403 657.75C1405.06 655.17 1409.17 650.96 1412.25 647.5C1415.33 644.04 1418.42 640.46 1421.5 637C1424.58 633.54 1428.62 628.96 1430.75 626.75C1432.88 624.54 1433.31 624.79 1434.25 623.75C1435.19 622.71 1435.88 622.04 1436.38 620.5C1436.88 618.96 1437.17 617.92 1437.25 614.5C1437.33 611.08 1436.85 603.79 1436.88 600C1436.9 596.21 1437.38 594.83 1437.38 591.75C1437.38 588.67 1436.83 584.58 1436.88 581.5C1436.92 578.42 1437.5 581.67 1437.62 573.25C1437.75 564.83 1437.62 538.04 1437.62 531Z" fill="#E09E94" stroke="#000" stroke-width="2.7" stroke-linejoin="round"/>
<path d="M1438 635.25V678.5M1430.82 635.25H1445.18M1430.82 678.5H1445.18" fill="none" stroke="#000" stroke-width="2.5"/>
<path d="M1421.18 657.25H1454.82" fill="none" stroke="#000" stroke-width="3.3"/>
<path d="M1533.12 425.75C1533.21 426.96 1533.62 429.75 1533.62 433C1533.62 436.25 1533.21 426.71 1533.12 445.25C1533.04 463.79 1533.02 526 1533.12 544.25C1533.23 562.5 1533.54 551.67 1533.75 554.75C1533.96 557.83 1534.38 560.04 1534.38 562.75C1534.38 565.46 1533.96 568.25 1533.75 571C1533.54 573.75 1533.21 575.46 1533.12 579.25C1533.04 583.04 1533.1 590.62 1533.25 593.75C1533.4 596.88 1533.25 595.92 1534 598C1534.75 600.08 1536.5 603.17 1537.75 606.25C1539 609.33 1539.92 613.08 1541.5 616.5C1543.08 619.92 1545.1 623.33 1547.25 626.75C1549.4 630.17 1552.36 633.54 1554.4 637C1556.44 640.46 1558.3 644.38 1559.5 647.5C1560.7 650.62 1561.42 653.38 1561.62 655.75C1561.83 658.12 1561.35 659.71 1560.75 661.75C1560.15 663.79 1559.75 665.25 1558 668C1556.25 670.75 1552.67 675.17 1550.25 678.25C1547.83 681.33 1544.62 685.12 1543.5 686.5L1522 686.5C1520.88 685.12 1517.67 681.33 1515.25 678.25C1512.83 675.17 1509.25 670.75 1507.5 668C1505.75 665.25 1505.35 663.79 1504.75 661.75C1504.15 659.71 1503.67 658.12 1503.88 655.75C1504.08 653.38 1504.8 650.62 1506 647.5C1507.2 644.38 1509.06 640.46 1511.1 637C1513.14 633.54 1516.1 630.17 1518.25 626.75C1520.4 623.33 1522.42 619.92 1524 616.5C1525.58 613.08 1526.5 609.33 1527.75 606.25C1529 603.17 1530.75 600.08 1531.5 598C1532.25 595.92 1532.1 596.88 1532.25 593.75C1532.4 590.62 1532.46 583.04 1532.38 579.25C1532.29 575.46 1531.96 573.75 1531.75 571C1531.54 568.25 1531.12 565.46 1531.12 562.75C1531.12 560.04 1531.54 557.83 1531.75 554.75C1531.96 551.67 1532.27 562.5 1532.38 544.25C1532.48 526 1532.46 463.79 1532.38 445.25C1532.29 426.71 1531.88 436.25 1531.88 433C1531.88 429.75 1532.29 426.96 1532.38 425.75Z" fill="#82B9DD" stroke="#000" stroke-width="2.7" stroke-linejoin="round"/>
<path d="M1532.75 614.75V681.5M1525.57 614.75H1539.93M1525.57 681.5H1539.93" fill="none" stroke="#000" stroke-width="2.5"/>
<path d="M1515.93 647.75H1549.57" fill="none" stroke="#000" stroke-width="3.3"/>
<path d="M1381.75 406.5V707.5H1588.75M1370.5 424.75H1381.75M1370.5 469.75H1381.75M1370.5 514.75H1381.75M1370.5 559.75H1381.75M1370.5 604.75H1381.75M1370.5 649.75H1381.75M1370.5 694.75H1381.75M1438 707.5V718.5M1532.5 707.5V718.5" fill="none" stroke="#000" stroke-width="2.5" stroke-linejoin="miter"/>
<path d="M1438 426V419.75H1533V426" fill="none" stroke="#000" stroke-width="2.4"/>
<text x="1485.5" y="424.25" font-size="24" text-anchor="middle">*</text>
<text x="1359.75" y="433.7" font-size="25" text-anchor="end">400000</text>
<text x="1359.75" y="478.7" font-size="25" text-anchor="end">350000</text>
<text x="1359.75" y="523.7" font-size="25" text-anchor="end">300000</text>
<text x="1359.75" y="568.7" font-size="25" text-anchor="end">250000</text>
<text x="1359.75" y="613.7" font-size="25" text-anchor="end">200000</text>
<text x="1359.75" y="658.7" font-size="25" text-anchor="end">150000</text>
<text x="1359.75" y="703.7" font-size="25" text-anchor="end">100000</text>
<text x="1438" y="745" font-size="25" text-anchor="middle">Elite</text>
<text x="1532.5" y="745" font-size="25" text-anchor="middle">Sub-elite</text>
<text transform="translate(1257.5 556.5) rotate(-90)" font-size="29" text-anchor="middle">Acetoacetate</text>
<text transform="translate(1213.77 416.7) scale(0.9385 1)" font-size="43.5" font-weight="bold">H</text>
</g>
<g id="panelI">
<path d="M241.9 817.54C242.15 819.96 242.44 827.13 243.4 832.05C244.36 836.97 246.11 842.06 247.65 847.06C249.2 852.06 250.99 857.07 252.66 862.07C254.33 867.07 256.12 872.08 257.66 877.08C259.2 882.08 260.58 887.08 261.91 892.09C263.25 897.09 264.29 902.09 265.67 907.1C267.04 912.1 268.58 917.1 270.17 922.11C271.75 927.11 273.96 932.95 275.17 937.12C276.38 941.28 277.01 944.41 277.42 947.12C277.84 949.83 277.97 950.87 277.67 953.38C277.38 955.88 277.26 958.17 275.67 962.13C274.09 966.09 270.59 972.14 268.17 977.14C265.75 982.14 263.46 987.15 261.16 992.15C258.87 997.15 256.58 1002.16 254.41 1007.16C252.24 1012.16 249.86 1017.17 248.16 1022.17C246.45 1027.17 245.07 1032.18 244.15 1037.18C243.24 1042.18 242.9 1046.98 242.65 1052.19C242.4 1057.4 242.65 1065.74 242.65 1068.45L238.65 1068.45C238.65 1065.74 238.9 1057.4 238.65 1052.19C238.4 1046.98 238.07 1042.18 237.15 1037.18C236.23 1032.18 234.86 1027.17 233.15 1022.17C231.44 1017.17 229.06 1012.16 226.89 1007.16C224.72 1002.16 222.43 997.15 220.14 992.15C217.84 987.15 215.55 982.14 213.13 977.14C210.72 972.14 207.21 966.09 205.63 962.13C204.04 958.17 203.92 955.88 203.63 953.38C203.34 950.87 203.46 949.83 203.88 947.12C204.29 944.41 204.92 941.28 206.13 937.12C207.34 932.95 209.55 927.11 211.13 922.11C212.72 917.1 214.26 912.1 215.63 907.1C217.01 902.09 218.05 897.09 219.39 892.09C220.72 887.08 222.1 882.08 223.64 877.08C225.18 872.08 226.98 867.07 228.64 862.07C230.31 857.07 232.1 852.06 233.65 847.06C235.19 842.06 236.94 836.97 237.9 832.05C238.86 827.13 239.15 819.96 239.4 817.54Z" fill="#E09E94" stroke="#000" stroke-width="2.7" stroke-linejoin="round"/>
<path d="M240.65 896.34V987.9M233.65 896.34H247.65M233.65 987.9H247.65" fill="none" stroke="#000" stroke-width="2.5"/>
<path d="M224.26 942.87H257.04" fill="none" stroke="#000" stroke-width="3.3"/>
<path d="M337.71 811.54C337.96 813.29 338.42 817.83 339.21 822.04C340 826.25 341.38 832.63 342.46 836.8C343.55 840.97 344.55 843.6 345.72 847.06C346.88 850.52 348.22 854.11 349.47 857.57C350.72 861.03 351.95 864.4 353.22 867.82C354.49 871.24 355.76 874.66 357.1 878.08C358.43 881.5 359.91 884.92 361.23 888.34C362.54 891.75 363.77 894.8 364.98 898.59C366.19 902.39 368.19 906.76 368.48 911.1C368.77 915.44 367.94 919.81 366.73 924.61C365.52 929.4 362.94 935.28 361.23 939.87C359.52 944.45 358.39 947.58 356.47 952.13C354.55 956.67 352.01 962.13 349.72 967.13C347.43 972.14 344.8 977.56 342.71 982.14C340.63 986.73 338.63 990.9 337.21 994.65C335.79 998.4 334.83 1001.74 334.21 1004.66C333.58 1007.58 333.46 1009.24 333.46 1012.16C333.46 1015.08 334 1017.25 334.21 1022.17C334.42 1027.09 334.63 1038.43 334.71 1041.68L329.71 1041.68C329.79 1038.43 330 1027.09 330.21 1022.17C330.41 1017.25 330.96 1015.08 330.96 1012.16C330.96 1009.24 330.83 1007.58 330.21 1004.66C329.58 1001.74 328.62 998.4 327.2 994.65C325.79 990.9 323.79 986.73 321.7 982.14C319.62 977.56 316.99 972.14 314.7 967.13C312.4 962.13 309.86 956.67 307.94 952.13C306.02 947.58 304.9 944.45 303.19 939.87C301.48 935.28 298.9 929.4 297.69 924.61C296.48 919.81 295.64 915.44 295.93 911.1C296.23 906.76 298.23 902.39 299.44 898.59C300.65 894.8 301.88 891.75 303.19 888.34C304.5 884.92 305.98 881.5 307.32 878.08C308.65 874.66 309.92 871.24 311.19 867.82C312.47 864.4 313.7 861.03 314.95 857.57C316.2 854.11 317.53 850.52 318.7 847.06C319.87 843.6 320.87 840.97 321.95 836.8C323.04 832.63 324.41 826.25 325.2 822.04C326 817.83 326.45 813.29 326.7 811.54Z" fill="#82B9DD" stroke="#000" stroke-width="2.7" stroke-linejoin="round"/>
<path d="M332.21 868.32V958.38M325.21 868.32H339.2M325.21 958.38H339.2" fill="none" stroke="#000" stroke-width="2.5"/>
<path d="M315.82 913.35H348.59" fill="none" stroke="#000" stroke-width="3.3"/>
<path d="M185.62 780.02V1081.96H386.49M174.36 781.52H185.62M174.36 847.06H185.62M174.36 912.6H185.62M174.36 978.39H185.62M174.36 1043.93H185.62M240.15 1081.96V1092.96M332.21 1081.96V1092.96" fill="none" stroke="#000" stroke-width="2.5" stroke-linejoin="miter"/>
<path d="M240.15 810.04V803.78H332.71V810.04" fill="none" stroke="#000" stroke-width="2.4"/>
<text x="286.43" y="808.28" font-size="24" text-anchor="middle">***</text>
<text x="164.85" y="790.47" font-size="25" text-anchor="end">900000</text>
<text x="164.85" y="856.01" font-size="25" text-anchor="end">800000</text>
<text x="164.85" y="921.55" font-size="25" text-anchor="end">700000</text>
<text x="164.85" y="987.34" font-size="25" text-anchor="end">600000</text>
<text x="164.85" y="1052.88" font-size="25" text-anchor="end">500000</text>
<text x="240.15" y="1120.73" font-size="25" text-anchor="middle">Elite</text>
<text x="332.21" y="1120.73" font-size="25" text-anchor="middle">Sub-elite</text>
<text transform="translate(61.79 930.61) rotate(-90)" font-size="29" text-anchor="middle">Glutamine</text>
<text transform="translate(0.38 801) scale(0.9020 1)" font-size="43.5" font-weight="bold">I</text>
</g>
<g id="panelJ">
<path d="M646.4 826.3C646.55 828.05 647.07 833.34 647.28 836.8C647.49 840.26 647.51 843.6 647.65 847.06C647.8 850.52 647.9 854.11 648.16 857.57C648.41 861.03 648.78 864.4 649.16 867.82C649.53 871.24 649.82 874.66 650.41 878.08C650.99 881.5 651.78 884.92 652.66 888.34C653.53 891.75 654.83 895.13 655.66 898.59C656.49 902.05 656.99 905.64 657.66 909.1C658.33 912.56 658.7 915.94 659.66 919.35C660.62 922.77 662.02 926.19 663.41 929.61C664.81 933.03 666.71 936.45 668.04 939.87C669.38 943.29 670.44 946.66 671.42 950.12C672.4 953.58 673.42 957.38 673.92 960.63C674.42 963.88 674.67 966.22 674.42 969.64C674.17 973.05 673.13 977.39 672.42 981.14C671.71 984.9 671.29 987.81 670.17 992.15C669.04 996.49 667.67 1002.16 665.67 1007.16C663.66 1012.16 660.25 1018 658.16 1022.17C656.08 1026.34 654.53 1029.34 653.16 1032.18C651.78 1035.01 650.45 1038.01 649.91 1039.18L638.9 1039.18C638.36 1038.01 637.02 1035.01 635.65 1032.18C634.27 1029.34 632.73 1026.34 630.64 1022.17C628.56 1018 625.14 1012.16 623.14 1007.16C621.14 1002.16 619.76 996.49 618.64 992.15C617.51 987.81 617.09 984.9 616.39 981.14C615.68 977.39 614.63 973.05 614.38 969.64C614.13 966.22 614.38 963.88 614.88 960.63C615.38 957.38 616.41 953.58 617.39 950.12C618.37 946.66 619.43 943.29 620.76 939.87C622.1 936.45 623.99 933.03 625.39 929.61C626.79 926.19 628.18 922.77 629.14 919.35C630.1 915.94 630.48 912.56 631.14 909.1C631.81 905.64 632.31 902.05 633.15 898.59C633.98 895.13 635.27 891.75 636.15 888.34C637.02 884.92 637.82 881.5 638.4 878.08C638.98 874.66 639.27 871.24 639.65 867.82C640.03 864.4 640.4 861.03 640.65 857.57C640.9 854.11 641 850.52 641.15 847.06C641.3 843.6 641.32 840.26 641.53 836.8C641.73 833.34 642.26 828.05 642.4 826.3Z" fill="#E09E94" stroke="#000" stroke-width="2.7" stroke-linejoin="round"/>
<path d="M644.4 910.85V1004.66M637.92 910.85H650.89M637.92 1004.66H650.89" fill="none" stroke="#000" stroke-width="2.5"/>
<path d="M629.22 957.88H659.59" fill="none" stroke="#000" stroke-width="3.3"/>
<path d="M730.71 809.04C730.75 813.29 730.75 828.21 730.96 834.55C731.17 840.89 731.58 843.22 731.96 847.06C732.33 850.9 732.83 854.11 733.21 857.57C733.58 861.03 733.83 864.4 734.21 867.82C734.58 871.24 735 874.66 735.46 878.08C735.92 881.5 736.38 884.92 736.96 888.34C737.54 891.75 738.13 895.13 738.96 898.59C739.8 902.05 740.84 905.64 741.96 909.1C743.09 912.56 744.51 915.94 745.72 919.35C746.93 922.77 748.01 926.19 749.22 929.61C750.43 933.03 751.51 936.45 752.97 939.87C754.43 943.29 756.33 946.66 757.97 950.12C759.62 953.58 761.73 957.71 762.85 960.63C763.98 963.55 764.75 964.88 764.73 967.63C764.71 970.39 763.98 973.47 762.73 977.14C761.48 980.81 759.22 985.52 757.22 989.65C755.22 993.78 752.14 998.15 750.72 1001.91C749.3 1005.66 749.34 1008.79 748.72 1012.16C748.09 1015.54 747.76 1018.83 746.97 1022.17C746.17 1025.5 745.09 1028.84 743.96 1032.18C742.84 1035.51 741.67 1038.01 740.21 1042.18C738.75 1046.35 736.04 1054.69 735.21 1057.19L725.2 1057.19C724.37 1054.69 721.66 1046.35 720.2 1042.18C718.74 1038.01 717.57 1035.51 716.45 1032.18C715.32 1028.84 714.24 1025.5 713.45 1022.17C712.65 1018.83 712.32 1015.54 711.69 1012.16C711.07 1008.79 711.11 1005.66 709.69 1001.91C708.28 998.15 705.19 993.78 703.19 989.65C701.19 985.52 698.94 980.81 697.69 977.14C696.44 973.47 695.71 970.39 695.68 967.63C695.66 964.88 696.44 963.55 697.56 960.63C698.69 957.71 700.79 953.58 702.44 950.12C704.09 946.66 705.98 943.29 707.44 939.87C708.9 936.45 709.99 933.03 711.19 929.61C712.4 926.19 713.49 922.77 714.7 919.35C715.91 915.94 717.32 912.56 718.45 909.1C719.57 905.64 720.62 902.05 721.45 898.59C722.28 895.13 722.87 891.75 723.45 888.34C724.04 884.92 724.49 881.5 724.95 878.08C725.41 874.66 725.83 871.24 726.2 867.82C726.58 864.4 726.83 861.03 727.2 857.57C727.58 854.11 728.08 850.9 728.46 847.06C728.83 843.22 729.25 840.89 729.46 834.55C729.66 828.21 729.66 813.29 729.71 809.04Z" fill="#82B9DD" stroke="#000" stroke-width="2.7" stroke-linejoin="round"/>
<path d="M730.21 924.11V1014.66M723.72 924.11H736.69M723.72 1014.66H736.69" fill="none" stroke="#000" stroke-width="2.5"/>
<path d="M715.02 969.64H745.39" fill="none" stroke="#000" stroke-width="3.3"/>
<path d="M593.12 778.77V1082.71H780.74M581.86 780.02H593.12M581.86 855.81H593.12M581.86 931.61H593.12M581.86 1007.16H593.12M581.86 1082.71H593.12M644.4 1082.71V1093.71M729.71 1082.71V1093.71" fill="none" stroke="#000" stroke-width="2.5" stroke-linejoin="miter"/>
<path d="M644.4 809.04V802.78H730.21V809.04" fill="none" stroke="#000" stroke-width="2.4"/>
<text x="687.3" y="800.08" font-size="25" text-anchor="middle">ns</text>
<text x="572.36" y="788.97" font-size="25" text-anchor="end">2500000</text>
<text x="572.36" y="864.76" font-size="25" text-anchor="end">2000000</text>
<text x="572.36" y="940.56" font-size="25" text-anchor="end">1500000</text>
<text x="572.36" y="1016.11" font-size="25" text-anchor="end">1000000</text>
<text x="572.36" y="1091.66" font-size="25" text-anchor="end">500000</text>
<text x="644.4" y="1121.98" font-size="25" text-anchor="middle">Elite</text>
<text x="729.71" y="1121.98" font-size="25" text-anchor="middle">Sub-elite</text>
<text transform="translate(456.04 933.86) rotate(-90)" font-size="29.2" text-anchor="middle">Glycerophosphorylcholine</text>
<text transform="translate(407.64 801) scale(0.9362 1)" font-size="43.5" font-weight="bold">J</text>
</g>
<g id="panelK">
<path d="M1032.52 801.53C1032.54 810.79 1032.54 845.73 1032.65 857.07C1032.75 868.41 1033.04 865.4 1033.15 869.57C1033.25 873.74 1033.31 876.66 1033.27 882.08C1033.23 887.5 1033 894.59 1032.9 902.09C1032.79 909.6 1032.67 918.77 1032.65 927.11C1032.62 935.45 1032.73 945.04 1032.77 952.13C1032.81 959.21 1032.67 964.8 1032.9 969.64C1033.12 974.47 1033.69 977.39 1034.15 981.14C1034.6 984.9 1035.11 988.65 1035.65 992.15C1036.19 995.65 1036.48 998.4 1037.4 1002.16C1038.32 1005.91 1039.69 1010.49 1041.15 1014.66C1042.61 1018.83 1044.69 1023.42 1046.15 1027.17C1047.61 1030.92 1049.03 1034.26 1049.91 1037.18C1050.78 1040.1 1051.37 1042.18 1051.41 1044.68C1051.45 1047.18 1051.07 1049.69 1050.16 1052.19C1049.24 1054.69 1047.57 1057.19 1045.9 1059.69C1044.24 1062.19 1041.53 1065.2 1040.15 1067.2C1038.77 1069.2 1038.07 1070.95 1037.65 1071.7L1026.64 1071.7C1026.22 1070.95 1025.52 1069.2 1024.14 1067.2C1022.76 1065.2 1020.05 1062.19 1018.39 1059.69C1016.72 1057.19 1015.05 1054.69 1014.13 1052.19C1013.22 1049.69 1012.84 1047.18 1012.88 1044.68C1012.92 1042.18 1013.51 1040.1 1014.38 1037.18C1015.26 1034.26 1016.68 1030.92 1018.14 1027.17C1019.6 1023.42 1021.68 1018.83 1023.14 1014.66C1024.6 1010.49 1025.97 1005.91 1026.89 1002.16C1027.81 998.4 1028.1 995.65 1028.64 992.15C1029.18 988.65 1029.69 984.9 1030.14 981.14C1030.6 977.39 1031.17 974.47 1031.39 969.64C1031.62 964.8 1031.48 959.21 1031.52 952.13C1031.56 945.04 1031.67 935.45 1031.64 927.11C1031.62 918.77 1031.5 909.6 1031.39 902.09C1031.29 894.59 1031.06 887.5 1031.02 882.08C1030.98 876.66 1031.04 873.74 1031.14 869.57C1031.25 865.4 1031.54 868.41 1031.64 857.07C1031.75 845.73 1031.75 810.79 1031.77 801.53Z" fill="#E09E94" stroke="#000" stroke-width="2.7" stroke-linejoin="round"/>
<path d="M1032.15 965.88V1071.7M1025.02 965.88H1039.27" fill="none" stroke="#000" stroke-width="2.5"/>
<path d="M1015.45 1017.67H1048.84" fill="none" stroke="#000" stroke-width="3.3"/>
<path d="M1128.96 987.65C1128.91 988.4 1129 990.36 1128.71 992.15C1128.41 993.94 1127.29 996.53 1127.2 998.4C1127.12 1000.28 1127.75 1001.95 1128.21 1003.41C1128.66 1004.87 1129.16 1005.28 1129.96 1007.16C1130.75 1009.04 1132.12 1012.16 1132.96 1014.66C1133.79 1017.17 1134.17 1020.08 1134.96 1022.17C1135.75 1024.25 1135.92 1025.3 1137.71 1027.17C1139.5 1029.05 1142.84 1031.34 1145.72 1033.43C1148.59 1035.51 1152.3 1037.8 1154.97 1039.68C1157.64 1041.56 1160.35 1043.43 1161.73 1044.68C1163.1 1045.93 1163.89 1046.14 1163.23 1047.18C1162.56 1048.23 1160.64 1049.48 1157.72 1050.94C1154.81 1052.4 1149.47 1054.27 1145.72 1055.94C1141.96 1057.61 1136.96 1060.11 1135.21 1060.94L1115.2 1060.94C1113.45 1060.11 1108.44 1057.61 1104.69 1055.94C1100.94 1054.27 1095.6 1052.4 1092.68 1050.94C1089.76 1049.48 1087.85 1048.23 1087.18 1047.18C1086.51 1046.14 1087.3 1045.93 1088.68 1044.68C1090.06 1043.43 1092.77 1041.56 1095.43 1039.68C1098.1 1037.8 1101.81 1035.51 1104.69 1033.43C1107.57 1031.34 1110.9 1029.05 1112.7 1027.17C1114.49 1025.3 1114.65 1024.25 1115.45 1022.17C1116.24 1020.08 1116.61 1017.17 1117.45 1014.66C1118.28 1012.16 1119.66 1009.04 1120.45 1007.16C1121.24 1005.28 1121.74 1004.87 1122.2 1003.41C1122.66 1001.95 1123.29 1000.28 1123.2 998.4C1123.12 996.53 1121.99 993.94 1121.7 992.15C1121.41 990.36 1121.49 988.4 1121.45 987.65Z" fill="#82B9DD" stroke="#000" stroke-width="2.7" stroke-linejoin="round"/>
<path d="M1125.2 1021.67V1054.19M1118.07 1021.67H1132.33M1118.07 1054.19H1132.33" fill="none" stroke="#000" stroke-width="2.5"/>
<path d="M1108.51 1037.68H1141.9" fill="none" stroke="#000" stroke-width="3.3"/>
<path d="M975.11 781.52V1086.21H1180.74M963.85 800.78H975.11M963.85 877.08H975.11M963.85 953.88H975.11M963.85 1030.42H975.11M1031.39 1086.21V1097.22M1125.2 1086.21V1097.22" fill="none" stroke="#000" stroke-width="2.5" stroke-linejoin="miter"/>
<path d="M1031.39 801.53V795.03H1125.95V801.53" fill="none" stroke="#000" stroke-width="2.4"/>
<text x="1078.67" y="798.33" font-size="24" text-anchor="middle">***</text>
<text x="954.35" y="809.73" font-size="25" text-anchor="end">800000</text>
<text x="954.35" y="886.03" font-size="25" text-anchor="end">600000</text>
<text x="954.35" y="962.83" font-size="25" text-anchor="end">400000</text>
<text x="954.35" y="1039.37" font-size="25" text-anchor="end">200000</text>
<text x="1031.39" y="1123.73" font-size="25" text-anchor="middle">Elite</text>
<text x="1125.2" y="1123.73" font-size="25" text-anchor="middle">Sub-elite</text>
<text transform="translate(851.53 933.36) rotate(-90)" font-size="29" text-anchor="middle">Methanol</text>
<text transform="translate(808.11 801) scale(0.9430 1)" font-size="43.5" font-weight="bold">K</text>
</g>
<g id="panelL">
<path d="M1441.75 945.75C1442.29 946.79 1443.42 949.29 1445 952C1446.58 954.71 1449.38 958.67 1451.25 962C1453.12 965.33 1454.38 969.08 1456.25 972C1458.12 974.92 1460.21 977 1462.5 979.5C1464.79 982 1468.04 984.71 1470 987C1471.96 989.29 1473.42 991.79 1474.25 993.25C1475.08 994.71 1475.17 994.29 1475 995.75C1474.83 997.21 1474.38 998.88 1473.25 1002C1472.12 1005.12 1470.17 1010.33 1468.25 1014.5C1466.33 1018.67 1464.17 1022.83 1461.75 1027C1459.33 1031.17 1456.42 1035.33 1453.75 1039.5C1451.08 1043.67 1447.83 1048.25 1445.75 1052C1443.67 1055.75 1442.17 1058.46 1441.25 1062C1440.33 1065.54 1440.42 1071.38 1440.25 1073.25L1437.25 1073.25C1437.08 1071.38 1437.17 1065.54 1436.25 1062C1435.33 1058.46 1433.83 1055.75 1431.75 1052C1429.67 1048.25 1426.42 1043.67 1423.75 1039.5C1421.08 1035.33 1418.17 1031.17 1415.75 1027C1413.33 1022.83 1411.17 1018.67 1409.25 1014.5C1407.33 1010.33 1405.38 1005.12 1404.25 1002C1403.12 998.88 1402.67 997.21 1402.5 995.75C1402.33 994.29 1402.42 994.71 1403.25 993.25C1404.08 991.79 1405.54 989.29 1407.5 987C1409.46 984.71 1412.71 982 1415 979.5C1417.29 977 1419.38 974.92 1421.25 972C1423.12 969.08 1424.38 965.33 1426.25 962C1428.12 958.67 1430.92 954.71 1432.5 952C1434.08 949.29 1435.21 946.79 1435.75 945.75Z" fill="#E09E94" stroke="#000" stroke-width="2.7" stroke-linejoin="round"/>
<path d="M1438.75 978.25V1028.25M1431.61 978.25H1445.89M1431.61 1028.25H1445.89" fill="none" stroke="#000" stroke-width="2.5"/>
<path d="M1422.02 1003.25H1455.48" fill="none" stroke="#000" stroke-width="3.3"/>
<path d="M1532.38 800.75C1532.44 801.79 1532.75 804.42 1532.75 807C1532.75 809.58 1532.44 806.46 1532.38 816.25C1532.31 826.04 1532.29 855.46 1532.38 865.75C1532.46 876.04 1532.85 873.88 1532.88 878C1532.9 882.12 1532.48 887.38 1532.5 890.5C1532.52 893.62 1532.62 894 1533 896.75C1533.38 899.5 1534.67 903.58 1534.75 907C1534.83 910.42 1533.88 913.83 1533.5 917.25C1533.12 920.67 1532.62 924.08 1532.5 927.5C1532.38 930.92 1532.33 935 1532.75 937.75C1533.17 940.5 1534 941.92 1535 944C1536 946.08 1536.88 947.5 1538.75 950.25C1540.62 953 1543.46 957.08 1546.25 960.5C1549.04 963.92 1552.69 967.29 1555.5 970.75C1558.31 974.21 1561 977.79 1563.12 981.25C1565.25 984.71 1567.23 988.92 1568.25 991.5C1569.27 994.08 1569.25 995.04 1569.25 996.75C1569.25 998.46 1569.96 999.21 1568.25 1001.75C1566.54 1004.29 1562.33 1008.54 1559 1012C1555.67 1015.46 1551.29 1019.04 1548.25 1022.5C1545.21 1025.96 1542.5 1029.67 1540.75 1032.75C1539 1035.83 1538.33 1038.75 1537.75 1041C1537.17 1043.25 1537.33 1045.38 1537.25 1046.25L1526.75 1046.25C1526.67 1045.38 1526.83 1043.25 1526.25 1041C1525.67 1038.75 1525 1035.83 1523.25 1032.75C1521.5 1029.67 1518.79 1025.96 1515.75 1022.5C1512.71 1019.04 1508.33 1015.46 1505 1012C1501.67 1008.54 1497.46 1004.29 1495.75 1001.75C1494.04 999.21 1494.75 998.46 1494.75 996.75C1494.75 995.04 1494.73 994.08 1495.75 991.5C1496.77 988.92 1498.75 984.71 1500.88 981.25C1503 977.79 1505.69 974.21 1508.5 970.75C1511.31 967.29 1514.96 963.92 1517.75 960.5C1520.54 957.08 1523.38 953 1525.25 950.25C1527.12 947.5 1528 946.08 1529 944C1530 941.92 1530.83 940.5 1531.25 937.75C1531.67 935 1531.62 930.92 1531.5 927.5C1531.38 924.08 1530.88 920.67 1530.5 917.25C1530.12 913.83 1529.17 910.42 1529.25 907C1529.33 903.58 1530.62 899.5 1531 896.75C1531.38 894 1531.48 893.62 1531.5 890.5C1531.52 887.38 1531.1 882.12 1531.12 878C1531.15 873.88 1531.54 876.04 1531.62 865.75C1531.71 855.46 1531.69 826.04 1531.62 816.25C1531.56 806.46 1531.25 809.58 1531.25 807C1531.25 804.42 1531.56 801.79 1531.62 800.75Z" fill="#82B9DD" stroke="#000" stroke-width="2.7" stroke-linejoin="round"/>
<path d="M1532 952V1022.75M1524.86 952H1539.14M1524.86 1022.75H1539.14" fill="none" stroke="#000" stroke-width="2.5"/>
<path d="M1515.27 987.5H1548.73" fill="none" stroke="#000" stroke-width="3.3"/>
<path d="M1382.5 780V1086.75H1588M1371.25 792.5H1382.5M1371.25 872.5H1382.5M1371.25 952.5H1382.5M1371.25 1032.75H1382.5M1438 1086.75V1097.75M1532 1086.75V1097.75" fill="none" stroke="#000" stroke-width="2.5" stroke-linejoin="miter"/>
<path d="M1438 800V793.25H1532.5V800" fill="none" stroke="#000" stroke-width="2.4"/>
<text x="1485.25" y="797.75" font-size="24" text-anchor="middle">***</text>
<text x="1360.75" y="801.45" font-size="25" text-anchor="end">600000</text>
<text x="1360.75" y="881.45" font-size="25" text-anchor="end">500000</text>
<text x="1360.75" y="961.45" font-size="25" text-anchor="end">400000</text>
<text x="1360.75" y="1041.7" font-size="25" text-anchor="end">300000</text>
<text x="1438" y="1125" font-size="25" text-anchor="middle">Elite</text>
<text x="1532" y="1125" font-size="25" text-anchor="middle">Sub-elite</text>
<text transform="translate(1259 933.25) rotate(-90)" font-size="29" text-anchor="middle">Glycine</text>
<text transform="translate(1213.76 801) scale(0.9407 1)" font-size="43.5" font-weight="bold">L</text>
</g>
<g id="panelM">
<path d="M252.06 1179.28C252.06 1190.33 251.98 1233.27 252.06 1245.57C252.14 1257.87 252.27 1250.58 252.53 1253.08C252.8 1255.58 253.22 1258.08 253.66 1260.58C254.1 1263.08 254.66 1265.92 255.16 1268.09C255.66 1270.26 255.87 1271.09 256.66 1273.59C257.45 1276.09 258.62 1279.64 259.91 1283.1C261.2 1286.56 262.91 1290.77 264.42 1294.35C265.92 1297.94 267.42 1301.19 268.92 1304.61C270.42 1308.03 272.17 1311.36 273.42 1314.87C274.67 1318.37 275.55 1322.16 276.42 1325.62C277.3 1329.08 278.01 1331.92 278.67 1335.63C279.34 1339.34 280.22 1344.14 280.43 1347.89C280.63 1351.64 280.59 1353.93 279.92 1358.14C279.26 1362.35 277.76 1368.15 276.42 1373.15C275.09 1378.16 273.59 1383.16 271.92 1388.16C270.25 1393.17 268.25 1398.21 266.42 1403.17C264.58 1408.13 262.33 1413.76 260.91 1417.93C259.5 1422.1 258.87 1424.73 257.91 1428.19C256.95 1431.65 255.83 1435.28 255.16 1438.69C254.49 1442.11 254.12 1447.03 253.91 1448.7L248.91 1448.7C248.7 1447.03 248.32 1442.11 247.65 1438.69C246.99 1435.28 245.86 1431.65 244.9 1428.19C243.94 1424.73 243.32 1422.1 241.9 1417.93C240.48 1413.76 238.23 1408.13 236.4 1403.17C234.56 1398.21 232.56 1393.17 230.89 1388.16C229.23 1383.16 227.73 1378.16 226.39 1373.15C225.06 1368.15 223.56 1362.35 222.89 1358.14C222.22 1353.93 222.18 1351.64 222.39 1347.89C222.6 1344.14 223.47 1339.34 224.14 1335.63C224.81 1331.92 225.52 1329.08 226.39 1325.62C227.27 1322.16 228.14 1318.37 229.39 1314.87C230.64 1311.36 232.4 1308.03 233.9 1304.61C235.4 1301.19 236.9 1297.94 238.4 1294.35C239.9 1290.77 241.61 1286.56 242.9 1283.1C244.19 1279.64 245.36 1276.09 246.15 1273.59C246.95 1271.09 247.15 1270.26 247.65 1268.09C248.16 1265.92 248.72 1263.08 249.16 1260.58C249.59 1258.08 250.01 1255.58 250.28 1253.08C250.55 1250.58 250.68 1257.87 250.76 1245.57C250.84 1233.27 250.76 1190.33 250.76 1179.28Z" fill="#E09E94" stroke="#000" stroke-width="2.7" stroke-linejoin="round"/>
<path d="M251.41 1301.86V1393.67M244.85 1301.86H257.97M244.85 1393.67H257.97" fill="none" stroke="#000" stroke-width="2.5"/>
<path d="M236.05 1348.14H266.77" fill="none" stroke="#000" stroke-width="3.3"/>
<path d="M339.71 1183.53C339.88 1185.12 340.25 1190.04 340.71 1193.04C341.17 1196.04 341.67 1198.42 342.46 1201.55C343.26 1204.67 344.47 1208.38 345.47 1211.8C346.47 1215.22 347.59 1218.6 348.47 1222.06C349.34 1225.52 350.22 1229.48 350.72 1232.57C351.22 1235.65 351.51 1237.15 351.47 1240.57C351.43 1243.99 350.93 1249.33 350.47 1253.08C350.01 1256.83 349.05 1259.75 348.72 1263.08C348.38 1266.42 348.38 1270.59 348.47 1273.09C348.55 1275.59 348.59 1276.26 349.22 1278.09C349.84 1279.93 351.05 1282.01 352.22 1284.1C353.39 1286.18 354.81 1288.27 356.22 1290.6C357.64 1292.94 358.81 1294.77 360.73 1298.11C362.64 1301.44 365.81 1306.86 367.73 1310.61C369.65 1314.37 371.4 1318.12 372.23 1320.62C373.07 1323.12 372.98 1323.54 372.73 1325.62C372.48 1327.71 372.19 1329.79 370.73 1333.13C369.27 1336.46 366.35 1341.47 363.98 1345.64C361.6 1349.81 358.77 1353.97 356.47 1358.14C354.18 1362.31 351.89 1366.9 350.22 1370.65C348.55 1374.4 347.63 1377.32 346.47 1380.66C345.3 1383.99 343.76 1389 343.21 1390.66L332.21 1390.66C331.67 1389 330.12 1383.99 328.96 1380.66C327.79 1377.32 326.87 1374.4 325.2 1370.65C323.54 1366.9 321.24 1362.31 318.95 1358.14C316.66 1353.97 313.82 1349.81 311.44 1345.64C309.07 1341.47 306.15 1336.46 304.69 1333.13C303.23 1329.79 302.94 1327.71 302.69 1325.62C302.44 1323.54 302.36 1323.12 303.19 1320.62C304.02 1318.12 305.77 1314.37 307.69 1310.61C309.61 1306.86 312.78 1301.44 314.7 1298.11C316.61 1294.77 317.78 1292.94 319.2 1290.6C320.62 1288.27 322.03 1286.18 323.2 1284.1C324.37 1282.01 325.58 1279.93 326.2 1278.09C326.83 1276.26 326.87 1275.59 326.95 1273.09C327.04 1270.59 327.04 1266.42 326.7 1263.08C326.37 1259.75 325.41 1256.83 324.95 1253.08C324.49 1249.33 323.99 1243.99 323.95 1240.57C323.91 1237.15 324.2 1235.65 324.7 1232.57C325.2 1229.48 326.08 1225.52 326.95 1222.06C327.83 1218.6 328.96 1215.22 329.96 1211.8C330.96 1208.38 332.17 1204.67 332.96 1201.55C333.75 1198.42 334.25 1196.04 334.71 1193.04C335.17 1190.04 335.54 1185.12 335.71 1183.53Z" fill="#82B9DD" stroke="#000" stroke-width="2.7" stroke-linejoin="round"/>
<path d="M337.71 1258.58V1352.64M331.15 1258.58H344.27M331.15 1352.64H344.27" fill="none" stroke="#000" stroke-width="2.5"/>
<path d="M322.35 1306.11H353.07" fill="none" stroke="#000" stroke-width="3.3"/>
<path d="M199.37 1158.52V1462.96H388.24M188.12 1159.27H199.37M188.12 1213.55H199.37M188.12 1267.59H199.37M188.12 1321.87H199.37M188.12 1376.16H199.37M188.12 1430.19H199.37M250.91 1462.96V1473.97M337.21 1462.96V1473.97" fill="none" stroke="#000" stroke-width="2.5" stroke-linejoin="miter"/>
<path d="M250.91 1178.03V1171.78H337.71V1178.03" fill="none" stroke="#000" stroke-width="2.4"/>
<text x="294.31" y="1176.28" font-size="24" text-anchor="middle">***</text>
<text x="178.61" y="1168.22" font-size="25" text-anchor="end">1400000</text>
<text x="178.61" y="1222.5" font-size="25" text-anchor="end">1300000</text>
<text x="178.61" y="1276.54" font-size="25" text-anchor="end">1200000</text>
<text x="178.61" y="1330.82" font-size="25" text-anchor="end">1100000</text>
<text x="178.61" y="1385.11" font-size="25" text-anchor="end">1000000</text>
<text x="178.61" y="1439.14" font-size="25" text-anchor="end">900000</text>
<text x="250.91" y="1501.23" font-size="25" text-anchor="middle">Elite</text>
<text x="337.21" y="1501.23" font-size="25" text-anchor="middle">Sub-elite</text>
<text transform="translate(62.29 1310.86) rotate(-90)" font-size="29" text-anchor="middle">α-glucose</text>
<text transform="translate(-0.05 1168) scale(0.9617 1)" font-size="43.5" font-weight="bold">M</text>
</g>
<g id="panelN">
<path d="M647.65 1196.04C647.74 1198.67 647.95 1207.47 648.16 1211.8C648.36 1216.14 648.49 1218.6 648.91 1222.06C649.32 1225.52 650.11 1229.1 650.66 1232.57C651.2 1236.03 651.62 1239.4 652.16 1242.82C652.7 1246.24 653.16 1249.7 653.91 1253.08C654.66 1256.46 655.49 1259.67 656.66 1263.08C657.83 1266.5 659.04 1270.09 660.91 1273.59C662.79 1277.09 665.5 1280.64 667.92 1284.1C670.34 1287.56 673.63 1291.19 675.42 1294.35C677.21 1297.52 677.88 1300.19 678.67 1303.11C679.47 1306.03 679.97 1308.95 680.18 1311.86C680.38 1314.78 680.13 1317.91 679.92 1320.62C679.72 1323.33 679.34 1324.37 678.92 1328.13C678.51 1331.88 678.13 1338.13 677.42 1343.13C676.71 1348.14 675.71 1353.97 674.67 1358.14C673.63 1362.31 672.42 1365.02 671.17 1368.15C669.92 1371.28 668.5 1373.57 667.17 1376.91C665.83 1380.24 664.62 1383.78 663.16 1388.16C661.71 1392.54 659.87 1398.17 658.41 1403.17C656.95 1408.18 655.62 1413.18 654.41 1418.18C653.2 1423.18 651.87 1428.81 651.16 1433.19C650.45 1437.57 650.32 1442.57 650.16 1444.45L641.15 1444.45C640.98 1442.57 640.86 1437.57 640.15 1433.19C639.44 1428.81 638.11 1423.18 636.9 1418.18C635.69 1413.18 634.35 1408.18 632.9 1403.17C631.44 1398.17 629.6 1392.54 628.14 1388.16C626.68 1383.78 625.47 1380.24 624.14 1376.91C622.81 1373.57 621.39 1371.28 620.14 1368.15C618.89 1365.02 617.68 1362.31 616.64 1358.14C615.59 1353.97 614.59 1348.14 613.88 1343.13C613.17 1338.13 612.8 1331.88 612.38 1328.13C611.97 1324.37 611.59 1323.33 611.38 1320.62C611.17 1317.91 610.92 1314.78 611.13 1311.86C611.34 1308.95 611.84 1306.03 612.63 1303.11C613.43 1300.19 614.09 1297.52 615.88 1294.35C617.68 1291.19 620.97 1287.56 623.39 1284.1C625.81 1280.64 628.52 1277.09 630.39 1273.59C632.27 1270.09 633.48 1266.5 634.65 1263.08C635.81 1259.67 636.65 1256.46 637.4 1253.08C638.15 1249.7 638.61 1246.24 639.15 1242.82C639.69 1239.4 640.11 1236.03 640.65 1232.57C641.19 1229.1 641.98 1225.52 642.4 1222.06C642.82 1218.6 642.94 1216.14 643.15 1211.8C643.36 1207.47 643.57 1198.67 643.65 1196.04Z" fill="#E09E94" stroke="#000" stroke-width="2.7" stroke-linejoin="round"/>
<path d="M645.65 1284.35V1383.16M639.19 1284.35H652.12M639.19 1383.16H652.12" fill="none" stroke="#000" stroke-width="2.5"/>
<path d="M630.51 1333.63H660.79" fill="none" stroke="#000" stroke-width="3.3"/>
<path d="M732.96 1179.28C733 1181.16 732.92 1185.12 733.21 1190.54C733.5 1195.96 734.13 1204.8 734.71 1211.8C735.29 1218.81 735.88 1225.69 736.71 1232.57C737.54 1239.44 738.75 1246.24 739.71 1253.08C740.67 1259.92 741.51 1266.71 742.46 1273.59C743.42 1280.47 744.42 1287.47 745.47 1294.35C746.51 1301.23 747.68 1307.99 748.72 1314.87C749.76 1321.75 750.84 1328.75 751.72 1335.63C752.6 1342.51 753.35 1349.26 753.97 1356.14C754.6 1363.02 755.18 1371.57 755.47 1376.91C755.76 1382.24 755.7 1384.74 755.72 1388.16C755.74 1391.58 755.72 1394.08 755.6 1397.42C755.47 1400.75 755.37 1404.71 754.97 1408.18C754.58 1411.64 753.93 1414.85 753.22 1418.18C752.51 1421.52 751.72 1424.77 750.72 1428.19C749.72 1431.61 748.47 1435.28 747.22 1438.69C745.97 1442.11 743.88 1447.03 743.21 1448.7L718.2 1448.7C717.53 1447.03 715.45 1442.11 714.2 1438.69C712.95 1435.28 711.69 1431.61 710.69 1428.19C709.69 1424.77 708.9 1421.52 708.19 1418.18C707.48 1414.85 706.84 1411.64 706.44 1408.18C706.05 1404.71 705.94 1400.75 705.82 1397.42C705.69 1394.08 705.67 1391.58 705.69 1388.16C705.71 1384.74 705.65 1382.24 705.94 1376.91C706.23 1371.57 706.82 1363.02 707.44 1356.14C708.07 1349.26 708.82 1342.51 709.69 1335.63C710.57 1328.75 711.65 1321.75 712.7 1314.87C713.74 1307.99 714.91 1301.23 715.95 1294.35C716.99 1287.47 717.99 1280.47 718.95 1273.59C719.91 1266.71 720.74 1259.92 721.7 1253.08C722.66 1246.24 723.87 1239.44 724.7 1232.57C725.54 1225.69 726.12 1218.81 726.7 1211.8C727.29 1204.8 727.91 1195.96 728.21 1190.54C728.5 1185.12 728.41 1181.16 728.46 1179.28Z" fill="#82B9DD" stroke="#000" stroke-width="2.7" stroke-linejoin="round"/>
<path d="M730.71 1291.35V1418.68M724.24 1291.35H737.17M724.24 1418.68H737.17" fill="none" stroke="#000" stroke-width="2.5"/>
<path d="M715.57 1354.89H745.85" fill="none" stroke="#000" stroke-width="3.3"/>
<path d="M595.12 1159.27V1462.96H781.49M583.86 1167.52H595.12M583.86 1222.56H595.12M583.86 1277.34H595.12M583.86 1332.38H595.12M583.86 1386.91H595.12M583.86 1441.95H595.12M645.65 1462.96V1473.97M730.71 1462.96V1473.97" fill="none" stroke="#000" stroke-width="2.5" stroke-linejoin="miter"/>
<path d="M645.65 1178.03V1171.78H731.46V1178.03" fill="none" stroke="#000" stroke-width="2.4"/>
<text x="688.56" y="1176.28" font-size="24" text-anchor="middle">*</text>
<text x="573.61" y="1176.47" font-size="25" text-anchor="end">1400000</text>
<text x="573.61" y="1231.51" font-size="25" text-anchor="end">1200000</text>
<text x="573.61" y="1286.29" font-size="25" text-anchor="end">1000000</text>
<text x="573.61" y="1341.33" font-size="25" text-anchor="end">800000</text>
<text x="573.61" y="1395.86" font-size="25" text-anchor="end">600000</text>
<text x="573.61" y="1450.9" font-size="25" text-anchor="end">400000</text>
<text x="645.65" y="1501.23" font-size="25" text-anchor="middle">Elite</text>
<text x="730.71" y="1501.23" font-size="25" text-anchor="middle">Sub-elite</text>
<text transform="translate(457.29 1311.11) rotate(-90)" font-size="28.75" text-anchor="middle">Unsaturated fatty acids</text>
<text transform="translate(405.53 1168) scale(0.9346 1)" font-size="43.5" font-weight="bold">N</text>
</g>
</svg>
</body></html>
